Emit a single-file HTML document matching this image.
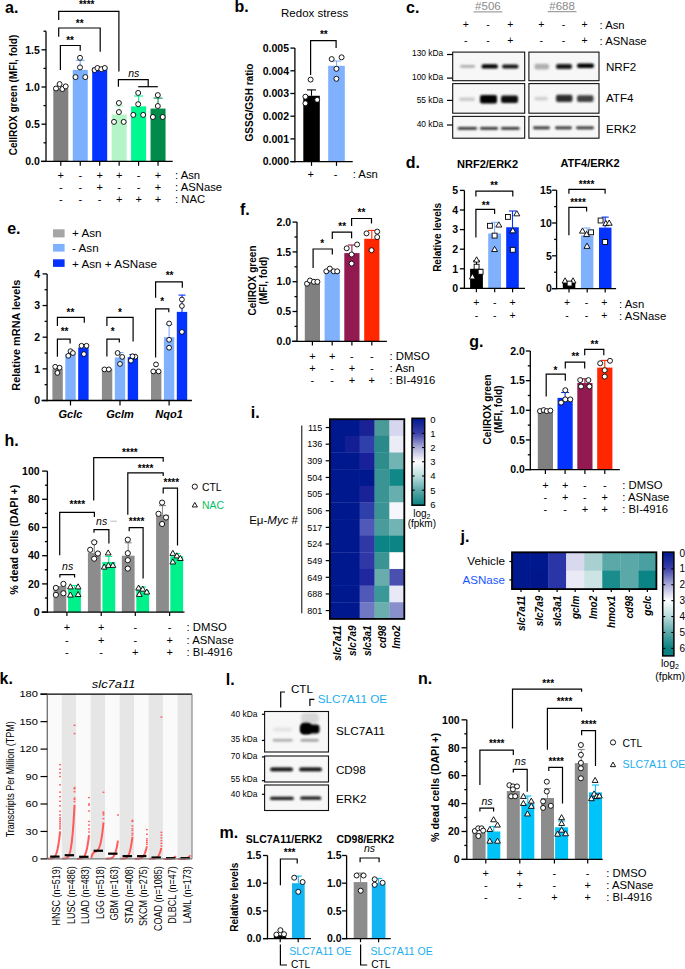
<!DOCTYPE html><html><head><meta charset="utf-8"><style>html,body{margin:0;padding:0;background:#fff;}svg{display:block;}text{font-family:"Liberation Sans", sans-serif;}</style></head><body>
<svg width="685" height="969" viewBox="0 0 685 969">
<rect width="685" height="969" fill="#fff"/>
<text x="5" y="13" font-size="16" font-weight="bold">a.</text>
<line x1="46" y1="162.05" x2="46" y2="31.2" stroke="#000" stroke-width="1.3"/>
<line x1="41.5" y1="161.4" x2="46" y2="161.4" stroke="#000" stroke-width="1.3"/>
<text x="39.8" y="165.18" font-size="10.5" font-weight="bold" text-anchor="end">0.0</text>
<line x1="41.5" y1="124.2" x2="46" y2="124.2" stroke="#000" stroke-width="1.3"/>
<text x="39.8" y="127.98" font-size="10.5" font-weight="bold" text-anchor="end">0.5</text>
<line x1="41.5" y1="87" x2="46" y2="87" stroke="#000" stroke-width="1.3"/>
<text x="39.8" y="90.78" font-size="10.5" font-weight="bold" text-anchor="end">1.0</text>
<line x1="41.5" y1="49.8" x2="46" y2="49.8" stroke="#000" stroke-width="1.3"/>
<text x="39.8" y="53.58" font-size="10.5" font-weight="bold" text-anchor="end">1.5</text>
<line x1="43.5" y1="142.8" x2="46" y2="142.8" stroke="#000" stroke-width="1.3"/>
<line x1="43.5" y1="105.6" x2="46" y2="105.6" stroke="#000" stroke-width="1.3"/>
<line x1="43.5" y1="68.4" x2="46" y2="68.4" stroke="#000" stroke-width="1.3"/>
<line x1="43.5" y1="31.2" x2="46" y2="31.2" stroke="#000" stroke-width="1.3"/>
<rect x="53.3" y="88.49" width="15" height="72.91" fill="#808080"/>
<rect x="72.75" y="69.89" width="15" height="91.51" fill="#7cb0ff"/>
<rect x="92.2" y="67.66" width="15" height="93.74" fill="#0433ff"/>
<rect x="111.65" y="114.53" width="15" height="46.87" fill="#b4f5c8"/>
<rect x="131.1" y="106.34" width="15" height="55.06" fill="#00f890"/>
<rect x="150.55" y="108.58" width="15" height="52.82" fill="#008b4b"/>
<line x1="80.25" y1="69.89" x2="80.25" y2="60.4" stroke="#7fb1ff" stroke-width="1.1"/>
<line x1="75.75" y1="60.4" x2="84.75" y2="60.4" stroke="#7fb1ff" stroke-width="1.1"/>
<line x1="119.15" y1="114.53" x2="119.15" y2="106" stroke="#b4f5cb" stroke-width="1.1"/>
<line x1="114.65" y1="106" x2="123.65" y2="106" stroke="#b4f5cb" stroke-width="1.1"/>
<line x1="138.6" y1="106.34" x2="138.6" y2="96" stroke="#00f58f" stroke-width="1.1"/>
<line x1="134.1" y1="96" x2="143.1" y2="96" stroke="#00f58f" stroke-width="1.1"/>
<line x1="158.05" y1="108.58" x2="158.05" y2="98.1" stroke="#008b4b" stroke-width="1.1"/>
<line x1="153.55" y1="98.1" x2="162.55" y2="98.1" stroke="#008b4b" stroke-width="1.1"/>
<line x1="41" y1="161.4" x2="172.7" y2="161.4" stroke="#000" stroke-width="1.3"/>
<line x1="60.8" y1="161.4" x2="60.8" y2="165.7" stroke="#000" stroke-width="1.2"/>
<line x1="80.25" y1="161.4" x2="80.25" y2="165.7" stroke="#000" stroke-width="1.2"/>
<line x1="99.7" y1="161.4" x2="99.7" y2="165.7" stroke="#000" stroke-width="1.2"/>
<line x1="119.15" y1="161.4" x2="119.15" y2="165.7" stroke="#000" stroke-width="1.2"/>
<line x1="138.6" y1="161.4" x2="138.6" y2="165.7" stroke="#000" stroke-width="1.2"/>
<line x1="158.05" y1="161.4" x2="158.05" y2="165.7" stroke="#000" stroke-width="1.2"/>
<circle cx="56" cy="88.5" r="2.5" fill="#fff" stroke="#000" stroke-width="0.9"/>
<circle cx="59.6" cy="84.1" r="2.5" fill="#fff" stroke="#000" stroke-width="0.9"/>
<circle cx="62.4" cy="89" r="2.5" fill="#fff" stroke="#000" stroke-width="0.9"/>
<circle cx="65.7" cy="86.4" r="2.5" fill="#fff" stroke="#000" stroke-width="0.9"/>
<circle cx="80" cy="57.8" r="2.5" fill="#fff" stroke="#000" stroke-width="0.9"/>
<circle cx="80" cy="67.4" r="2.5" fill="#fff" stroke="#000" stroke-width="0.9"/>
<circle cx="75.5" cy="77.1" r="2.5" fill="#fff" stroke="#000" stroke-width="0.9"/>
<circle cx="85.3" cy="77.1" r="2.5" fill="#fff" stroke="#000" stroke-width="0.9"/>
<circle cx="94.6" cy="70.1" r="2.5" fill="#fff" stroke="#000" stroke-width="0.9"/>
<circle cx="97.4" cy="68" r="2.5" fill="#fff" stroke="#000" stroke-width="0.9"/>
<circle cx="101.3" cy="69.2" r="2.5" fill="#fff" stroke="#000" stroke-width="0.9"/>
<circle cx="104.8" cy="68" r="2.5" fill="#fff" stroke="#000" stroke-width="0.9"/>
<circle cx="118.9" cy="103" r="2.5" fill="#fff" stroke="#000" stroke-width="0.9"/>
<circle cx="118.9" cy="112.1" r="2.5" fill="#fff" stroke="#000" stroke-width="0.9"/>
<circle cx="114" cy="121.9" r="2.5" fill="#fff" stroke="#000" stroke-width="0.9"/>
<circle cx="123.7" cy="121.9" r="2.5" fill="#fff" stroke="#000" stroke-width="0.9"/>
<circle cx="138.2" cy="92.9" r="2.5" fill="#fff" stroke="#000" stroke-width="0.9"/>
<circle cx="138.2" cy="104.2" r="2.5" fill="#fff" stroke="#000" stroke-width="0.9"/>
<circle cx="133.3" cy="114.9" r="2.5" fill="#fff" stroke="#000" stroke-width="0.9"/>
<circle cx="143.2" cy="114.9" r="2.5" fill="#fff" stroke="#000" stroke-width="0.9"/>
<circle cx="157.8" cy="95.1" r="2.5" fill="#fff" stroke="#000" stroke-width="0.9"/>
<circle cx="157.8" cy="106" r="2.5" fill="#fff" stroke="#000" stroke-width="0.9"/>
<circle cx="152.9" cy="117" r="2.5" fill="#fff" stroke="#000" stroke-width="0.9"/>
<circle cx="162.7" cy="117" r="2.5" fill="#fff" stroke="#000" stroke-width="0.9"/>
<polyline points="58.7,20.1 58.7,11.4 118.9,11.4 118.9,71.5" fill="none" stroke="#000" stroke-width="1.2"/>
<text x="86.7" y="8.2" font-size="10" font-weight="bold" text-anchor="middle">****</text>
<polyline points="58.7,36.8 58.7,28 100.2,28 100.2,51.7" fill="none" stroke="#000" stroke-width="1.2"/>
<text x="79.7" y="26.8" font-size="10" font-weight="bold" text-anchor="middle">**</text>
<polyline points="60.4,70 60.4,45.5 80.2,45.5 80.2,50.8" fill="none" stroke="#000" stroke-width="1.2"/>
<text x="70.1" y="44.3" font-size="10" font-weight="bold" text-anchor="middle">**</text>
<polyline points="118.4,86.7 118.4,79.7 148.2,79.7 148.2,86.7" fill="none" stroke="#000" stroke-width="1.2"/>
<line x1="138.2" y1="86.7" x2="157.8" y2="86.7" stroke="#000" stroke-width="1.2"/>
<text x="133.8" y="76.7" font-size="10.5" font-style="italic" text-anchor="middle">ns</text>
<text x="17.1" y="95" font-size="10" font-weight="bold" text-anchor="middle" transform="rotate(-90 17.1 95)">CellROX green (MFI, fold)</text>
<text x="60.8" y="178.6" font-size="11" text-anchor="middle">+</text>
<text x="80.25" y="178.6" font-size="11" text-anchor="middle">-</text>
<text x="99.7" y="178.6" font-size="11" text-anchor="middle">+</text>
<text x="119.15" y="178.6" font-size="11" text-anchor="middle">+</text>
<text x="138.6" y="178.6" font-size="11" text-anchor="middle">-</text>
<text x="158.05" y="178.6" font-size="11" text-anchor="middle">+</text>
<text x="175" y="178.6" font-size="11.3">: Asn</text>
<text x="60.8" y="190.7" font-size="11" text-anchor="middle">-</text>
<text x="80.25" y="190.7" font-size="11" text-anchor="middle">-</text>
<text x="99.7" y="190.7" font-size="11" text-anchor="middle">+</text>
<text x="119.15" y="190.7" font-size="11" text-anchor="middle">-</text>
<text x="138.6" y="190.7" font-size="11" text-anchor="middle">-</text>
<text x="158.05" y="190.7" font-size="11" text-anchor="middle">+</text>
<text x="175" y="190.7" font-size="11.3">: ASNase</text>
<text x="60.8" y="202.8" font-size="11" text-anchor="middle">-</text>
<text x="80.25" y="202.8" font-size="11" text-anchor="middle">-</text>
<text x="99.7" y="202.8" font-size="11" text-anchor="middle">-</text>
<text x="119.15" y="202.8" font-size="11" text-anchor="middle">+</text>
<text x="138.6" y="202.8" font-size="11" text-anchor="middle">+</text>
<text x="158.05" y="202.8" font-size="11" text-anchor="middle">+</text>
<text x="175" y="202.8" font-size="11.3">: NAC</text>
<text x="234.6" y="12.3" font-size="16" font-weight="bold">b.</text>
<text x="314.6" y="17.1" font-size="11.5" text-anchor="middle">Redox stress</text>
<line x1="294.9" y1="162.25" x2="294.9" y2="48.1" stroke="#000" stroke-width="1.3"/>
<line x1="290.4" y1="161.6" x2="294.9" y2="161.6" stroke="#000" stroke-width="1.3"/>
<text x="289" y="165.38" font-size="10.5" font-weight="bold" text-anchor="end">0.000</text>
<line x1="290.4" y1="138.9" x2="294.9" y2="138.9" stroke="#000" stroke-width="1.3"/>
<text x="289" y="142.68" font-size="10.5" font-weight="bold" text-anchor="end">0.001</text>
<line x1="290.4" y1="116.2" x2="294.9" y2="116.2" stroke="#000" stroke-width="1.3"/>
<text x="289" y="119.98" font-size="10.5" font-weight="bold" text-anchor="end">0.002</text>
<line x1="290.4" y1="93.5" x2="294.9" y2="93.5" stroke="#000" stroke-width="1.3"/>
<text x="289" y="97.28" font-size="10.5" font-weight="bold" text-anchor="end">0.003</text>
<line x1="290.4" y1="70.8" x2="294.9" y2="70.8" stroke="#000" stroke-width="1.3"/>
<text x="289" y="74.58" font-size="10.5" font-weight="bold" text-anchor="end">0.004</text>
<line x1="290.4" y1="48.1" x2="294.9" y2="48.1" stroke="#000" stroke-width="1.3"/>
<text x="289" y="51.88" font-size="10.5" font-weight="bold" text-anchor="end">0.005</text>
<rect x="303.3" y="95.77" width="16.5" height="65.83" fill="#000"/>
<rect x="328.2" y="65.81" width="16.6" height="95.79" fill="#7fb1ff"/>
<line x1="311.5" y1="95.77" x2="311.5" y2="89.9" stroke="#000" stroke-width="1.1"/>
<line x1="307" y1="89.9" x2="316" y2="89.9" stroke="#000" stroke-width="1.1"/>
<line x1="336.5" y1="65.81" x2="336.5" y2="61" stroke="#7fb1ff" stroke-width="1.1"/>
<line x1="332" y1="61" x2="341" y2="61" stroke="#7fb1ff" stroke-width="1.1"/>
<line x1="290.5" y1="161.6" x2="352.7" y2="161.6" stroke="#000" stroke-width="1.3"/>
<line x1="311.5" y1="161.6" x2="311.5" y2="165.9" stroke="#000" stroke-width="1.2"/>
<line x1="336.5" y1="161.6" x2="336.5" y2="165.9" stroke="#000" stroke-width="1.2"/>
<circle cx="310.6" cy="79.6" r="2.5" fill="#fff" stroke="#000" stroke-width="0.9"/>
<circle cx="305.4" cy="96.7" r="2.5" fill="#fff" stroke="#000" stroke-width="0.9"/>
<circle cx="317.2" cy="99.8" r="2.5" fill="#fff" stroke="#000" stroke-width="0.9"/>
<circle cx="305.4" cy="103.3" r="2.5" fill="#fff" stroke="#000" stroke-width="0.9"/>
<circle cx="331.7" cy="59.1" r="2.5" fill="#fff" stroke="#000" stroke-width="0.9"/>
<circle cx="341.6" cy="57.3" r="2.5" fill="#fff" stroke="#000" stroke-width="0.9"/>
<circle cx="336.4" cy="68.8" r="2.5" fill="#fff" stroke="#000" stroke-width="0.9"/>
<circle cx="336.4" cy="78.8" r="2.5" fill="#fff" stroke="#000" stroke-width="0.9"/>
<polyline points="310.6,74.9 310.6,40.7 336.1,40.7 336.1,48.1" fill="none" stroke="#000" stroke-width="1.2"/>
<text x="323.8" y="37.7" font-size="10" font-weight="bold" text-anchor="middle">**</text>
<text x="253" y="102.5" font-size="10" font-weight="bold" text-anchor="middle" transform="rotate(-90 253 102.5)">GSSG/GSH ratio</text>
<text x="310.6" y="178.4" font-size="11" text-anchor="middle">+</text>
<text x="335.6" y="178.4" font-size="11" text-anchor="middle">-</text>
<text x="352.7" y="178.4" font-size="11.3">: Asn</text>
<defs><filter id="bl1" x="-50%" y="-100%" width="200%" height="300%"><feGaussianBlur stdDeviation="1.1 0.9"/></filter><filter id="bl2" x="-50%" y="-100%" width="200%" height="300%"><feGaussianBlur stdDeviation="1.6 1.2"/></filter></defs>
<text x="406" y="12.7" font-size="16" font-weight="bold">c.</text>
<text x="487.9" y="9.8" font-size="11.5" text-anchor="middle" fill="#8a8a8a">#506</text>
<line x1="473.5" y1="11.9" x2="502.3" y2="11.9" stroke="#8a8a8a" stroke-width="1"/>
<text x="562.1" y="9.6" font-size="11.5" text-anchor="middle" fill="#8a8a8a">#688</text>
<line x1="547.7" y1="11.7" x2="576.5" y2="11.7" stroke="#8a8a8a" stroke-width="1"/>
<text x="465.8" y="28.3" font-size="10.5" text-anchor="middle">+</text>
<text x="487.9" y="28.3" font-size="10.5" text-anchor="middle">-</text>
<text x="510.4" y="28.3" font-size="10.5" text-anchor="middle">+</text>
<text x="465.8" y="44" font-size="10.5" text-anchor="middle">-</text>
<text x="487.9" y="44" font-size="10.5" text-anchor="middle">-</text>
<text x="510.4" y="44" font-size="10.5" text-anchor="middle">+</text>
<text x="541.2" y="28.3" font-size="10.5" text-anchor="middle">+</text>
<text x="563.4" y="28.3" font-size="10.5" text-anchor="middle">-</text>
<text x="584.5" y="28.3" font-size="10.5" text-anchor="middle">+</text>
<text x="541.2" y="44" font-size="10.5" text-anchor="middle">-</text>
<text x="563.4" y="44" font-size="10.5" text-anchor="middle">-</text>
<text x="584.5" y="44" font-size="10.5" text-anchor="middle">+</text>
<text x="599.5" y="28.5" font-size="11.3">: Asn</text>
<text x="599.5" y="44.6" font-size="11.3">: ASNase</text>
<rect x="452.7" y="52.1" width="72" height="28.6" fill="#f7f7f7" stroke="#111" stroke-width="1.1"/>
<rect x="452.7" y="83.6" width="72" height="29.6" fill="#f7f7f7" stroke="#111" stroke-width="1.1"/>
<rect x="452.7" y="116.4" width="72" height="21.8" fill="#f7f7f7" stroke="#111" stroke-width="1.1"/>
<rect x="528.9" y="52.1" width="70.1" height="28.6" fill="#f7f7f7" stroke="#111" stroke-width="1.1"/>
<rect x="528.9" y="83.6" width="70.1" height="29.6" fill="#f7f7f7" stroke="#111" stroke-width="1.1"/>
<rect x="528.9" y="116.4" width="70.1" height="21.8" fill="#f7f7f7" stroke="#111" stroke-width="1.1"/>
<rect x="460" y="64.9" width="15" height="2.8" rx="1.4" fill="#999" opacity="0.8" filter="url(#bl1)"/>
<rect x="481.5" y="64.2" width="16.5" height="4.4" rx="2.2" fill="#000" opacity="1" filter="url(#bl1)"/>
<rect x="502" y="64.5" width="16.5" height="4" rx="2" fill="#000" opacity="0.92" filter="url(#bl1)"/>
<rect x="459" y="97.5" width="16" height="3.6" rx="1.8" fill="#bbb" opacity="0.75" filter="url(#bl1)"/>
<rect x="480" y="95" width="17" height="8.6" rx="2" fill="#000" opacity="1" filter="url(#bl1)"/>
<rect x="501" y="95.5" width="17" height="7.6" rx="2" fill="#000" opacity="0.95" filter="url(#bl1)"/>
<rect x="457.6" y="127" width="19.4" height="2.8" rx="1.4" fill="#1a1a1a" opacity="0.9" filter="url(#bl1)"/>
<rect x="480" y="127" width="18" height="2.8" rx="1.4" fill="#1a1a1a" opacity="0.9" filter="url(#bl1)"/>
<rect x="501" y="127" width="18.6" height="2.8" rx="1.4" fill="#1a1a1a" opacity="0.9" filter="url(#bl1)"/>
<rect x="534.5" y="63.8" width="14.5" height="5.6" rx="2" fill="#999" opacity="0.75" filter="url(#bl1)"/>
<rect x="556" y="63.9" width="16" height="5" rx="2" fill="#111" opacity="0.95" filter="url(#bl1)"/>
<rect x="577" y="63.5" width="17" height="4.6" rx="2" fill="#000" opacity="1" filter="url(#bl1)"/>
<rect x="534.5" y="96.8" width="13.5" height="3.6" rx="1.8" fill="#c4c4c4" opacity="0.75" filter="url(#bl1)"/>
<rect x="556" y="94.8" width="16.5" height="7.2" rx="2" fill="#222" opacity="0.95" filter="url(#bl1)"/>
<rect x="577" y="95.2" width="16.5" height="6.8" rx="2" fill="#333" opacity="0.92" filter="url(#bl1)"/>
<rect x="533" y="126.4" width="17" height="2.8" rx="1.4" fill="#1a1a1a" opacity="0.9" filter="url(#bl1)"/>
<rect x="555" y="126.4" width="17" height="2.8" rx="1.4" fill="#1a1a1a" opacity="0.9" filter="url(#bl1)"/>
<rect x="576" y="126.4" width="18" height="2.8" rx="1.4" fill="#1a1a1a" opacity="0.9" filter="url(#bl1)"/>
<text x="443.2" y="56.4" font-size="8.4" text-anchor="end">130 kDa</text>
<line x1="447" y1="54.5" x2="452.7" y2="54.5" stroke="#000" stroke-width="1.2"/>
<text x="443.2" y="80" font-size="8.4" text-anchor="end">100 kDa</text>
<line x1="447" y1="78.1" x2="452.7" y2="78.1" stroke="#000" stroke-width="1.2"/>
<text x="443.2" y="103.2" font-size="8.4" text-anchor="end">55 kDa</text>
<line x1="447" y1="100.4" x2="452.7" y2="100.4" stroke="#000" stroke-width="1.2"/>
<text x="443.2" y="127.4" font-size="8.4" text-anchor="end">40 kDa</text>
<line x1="447" y1="125" x2="452.7" y2="125" stroke="#000" stroke-width="1.2"/>
<text x="606" y="71.1" font-size="11.6">NRF2</text>
<text x="606" y="102.4" font-size="11.6">ATF4</text>
<text x="606" y="133.3" font-size="11.6">ERK2</text>
<text x="405.8" y="167.8" font-size="16" font-weight="bold">d.</text>
<text x="487.6" y="167.8" font-size="11" font-weight="bold" text-anchor="middle">NRF2/ERK2</text>
<text x="590" y="167.3" font-size="11" font-weight="bold" text-anchor="middle">ATF4/ERK2</text>
<text x="441" y="237.4" font-size="10" font-weight="bold" text-anchor="middle" transform="rotate(-90 441 237.4)">Relative levels</text>
<line x1="464.4" y1="289.05" x2="464.4" y2="190.4" stroke="#000" stroke-width="1.3"/>
<line x1="459.9" y1="288.4" x2="464.4" y2="288.4" stroke="#000" stroke-width="1.3"/>
<text x="458.2" y="292.18" font-size="10.5" font-weight="bold" text-anchor="end">0</text>
<line x1="459.9" y1="268.8" x2="464.4" y2="268.8" stroke="#000" stroke-width="1.3"/>
<text x="458.2" y="272.58" font-size="10.5" font-weight="bold" text-anchor="end">1</text>
<line x1="459.9" y1="249.2" x2="464.4" y2="249.2" stroke="#000" stroke-width="1.3"/>
<text x="458.2" y="252.98" font-size="10.5" font-weight="bold" text-anchor="end">2</text>
<line x1="459.9" y1="229.6" x2="464.4" y2="229.6" stroke="#000" stroke-width="1.3"/>
<text x="458.2" y="233.38" font-size="10.5" font-weight="bold" text-anchor="end">3</text>
<line x1="459.9" y1="210" x2="464.4" y2="210" stroke="#000" stroke-width="1.3"/>
<text x="458.2" y="213.78" font-size="10.5" font-weight="bold" text-anchor="end">4</text>
<line x1="459.9" y1="190.4" x2="464.4" y2="190.4" stroke="#000" stroke-width="1.3"/>
<text x="458.2" y="194.18" font-size="10.5" font-weight="bold" text-anchor="end">5</text>
<rect x="470.1" y="268.8" width="12.8" height="19.6" fill="#000"/>
<rect x="488.2" y="233.52" width="12.8" height="54.88" fill="#7fb1ff"/>
<rect x="506.2" y="227.25" width="12.6" height="61.15" fill="#0433ff"/>
<line x1="476.5" y1="268.8" x2="476.5" y2="261" stroke="#000" stroke-width="1.1"/>
<line x1="473" y1="261" x2="480" y2="261" stroke="#000" stroke-width="1.1"/>
<line x1="494.6" y1="233.52" x2="494.6" y2="222.3" stroke="#7fb1ff" stroke-width="1.1"/>
<line x1="491.1" y1="222.3" x2="498.1" y2="222.3" stroke="#7fb1ff" stroke-width="1.1"/>
<line x1="512.5" y1="227.25" x2="512.5" y2="211" stroke="#0433ff" stroke-width="1.1"/>
<line x1="509" y1="211" x2="516" y2="211" stroke="#0433ff" stroke-width="1.1"/>
<line x1="460" y1="288.4" x2="525" y2="288.4" stroke="#000" stroke-width="1.3"/>
<line x1="476.4" y1="288.4" x2="476.4" y2="292.3" stroke="#000" stroke-width="1.2"/>
<line x1="494.7" y1="288.4" x2="494.7" y2="292.3" stroke="#000" stroke-width="1.2"/>
<line x1="512.6" y1="288.4" x2="512.6" y2="292.3" stroke="#000" stroke-width="1.2"/>
<polygon points="476.6,256.8 473.6,262.05 479.6,262.05" fill="#fff" stroke="#000" stroke-width="0.9"/>
<rect x="474.15" y="264.25" width="4.9" height="4.9" fill="#fff" stroke="#000" stroke-width="0.9"/>
<rect x="478.15" y="269.35" width="4.9" height="4.9" fill="#fff" stroke="#000" stroke-width="0.9"/>
<polygon points="472.4,273.7 469.4,278.95 475.4,278.95" fill="#fff" stroke="#000" stroke-width="0.9"/>
<rect x="487.45" y="223.35" width="4.9" height="4.9" fill="#fff" stroke="#000" stroke-width="0.9"/>
<polygon points="498.8,221.8 495.8,227.05 501.8,227.05" fill="#fff" stroke="#000" stroke-width="0.9"/>
<rect x="492.15" y="233.15" width="4.9" height="4.9" fill="#fff" stroke="#000" stroke-width="0.9"/>
<polygon points="494.6,246.3 491.6,251.55 497.6,251.55" fill="#fff" stroke="#000" stroke-width="0.9"/>
<rect x="505.45" y="214.45" width="4.9" height="4.9" fill="#fff" stroke="#000" stroke-width="0.9"/>
<polygon points="516.8,210.6 513.8,215.85 519.8,215.85" fill="#fff" stroke="#000" stroke-width="0.9"/>
<polygon points="512.8,227.6 509.8,232.85 515.8,232.85" fill="#fff" stroke="#000" stroke-width="0.9"/>
<rect x="510.35" y="247.35" width="4.9" height="4.9" fill="#fff" stroke="#000" stroke-width="0.9"/>
<polyline points="475.9,237.4 475.9,209.4 494.6,209.4 494.6,214" fill="none" stroke="#000" stroke-width="1.2"/>
<text x="485.7" y="209.2" font-size="10" font-weight="bold" text-anchor="middle">**</text>
<polyline points="475.9,196.6 475.9,191.2 512.8,191.2 512.8,196.6" fill="none" stroke="#000" stroke-width="1.2"/>
<text x="494.1" y="189.1" font-size="10" font-weight="bold" text-anchor="middle">**</text>
<line x1="556.6" y1="289.25" x2="556.6" y2="190.2" stroke="#000" stroke-width="1.3"/>
<line x1="552.1" y1="288.6" x2="556.6" y2="288.6" stroke="#000" stroke-width="1.3"/>
<text x="551.8" y="292.38" font-size="10.5" font-weight="bold" text-anchor="end">0</text>
<line x1="552.1" y1="255.8" x2="556.6" y2="255.8" stroke="#000" stroke-width="1.3"/>
<text x="551.8" y="259.58" font-size="10.5" font-weight="bold" text-anchor="end">5</text>
<line x1="552.1" y1="223" x2="556.6" y2="223" stroke="#000" stroke-width="1.3"/>
<text x="551.8" y="226.78" font-size="10.5" font-weight="bold" text-anchor="end">10</text>
<line x1="552.1" y1="190.2" x2="556.6" y2="190.2" stroke="#000" stroke-width="1.3"/>
<text x="551.8" y="193.98" font-size="10.5" font-weight="bold" text-anchor="end">15</text>
<line x1="554.1" y1="272.2" x2="556.6" y2="272.2" stroke="#000" stroke-width="1.3"/>
<line x1="554.1" y1="239.4" x2="556.6" y2="239.4" stroke="#000" stroke-width="1.3"/>
<line x1="554.1" y1="206.6" x2="556.6" y2="206.6" stroke="#000" stroke-width="1.3"/>
<rect x="562.8" y="282.7" width="12.5" height="5.9" fill="#000"/>
<rect x="580.9" y="235.46" width="12.5" height="53.14" fill="#7fb1ff"/>
<rect x="599" y="227.59" width="12.5" height="61.01" fill="#0433ff"/>
<line x1="587.1" y1="235.46" x2="587.1" y2="228" stroke="#7fb1ff" stroke-width="1.1"/>
<line x1="583.6" y1="228" x2="590.6" y2="228" stroke="#7fb1ff" stroke-width="1.1"/>
<line x1="605.2" y1="227.59" x2="605.2" y2="217.1" stroke="#0433ff" stroke-width="1.1"/>
<line x1="601.7" y1="217.1" x2="608.7" y2="217.1" stroke="#0433ff" stroke-width="1.1"/>
<line x1="552" y1="288.6" x2="616.1" y2="288.6" stroke="#000" stroke-width="1.3"/>
<line x1="569" y1="288.6" x2="569" y2="292.5" stroke="#000" stroke-width="1.2"/>
<line x1="587.2" y1="288.6" x2="587.2" y2="292.5" stroke="#000" stroke-width="1.2"/>
<line x1="605.2" y1="288.6" x2="605.2" y2="292.5" stroke="#000" stroke-width="1.2"/>
<polygon points="565.1,277.8 562.1,283.05 568.1,283.05" fill="#fff" stroke="#000" stroke-width="0.9"/>
<polygon points="573,277.8 570,283.05 576,283.05" fill="#fff" stroke="#000" stroke-width="0.9"/>
<rect x="567.15" y="281.15" width="4.9" height="4.9" fill="#fff" stroke="#000" stroke-width="0.9"/>
<polygon points="582.5,227.9 579.5,233.15 585.5,233.15" fill="#fff" stroke="#000" stroke-width="0.9"/>
<polygon points="586.6,231.3 583.6,236.55 589.6,236.55" fill="#fff" stroke="#000" stroke-width="0.9"/>
<rect x="588.65" y="229.85" width="4.9" height="4.9" fill="#fff" stroke="#000" stroke-width="0.9"/>
<polygon points="587,243.1 584,248.35 590,248.35" fill="#fff" stroke="#000" stroke-width="0.9"/>
<rect x="598.15" y="218.05" width="4.9" height="4.9" fill="#fff" stroke="#000" stroke-width="0.9"/>
<polygon points="605.8,220.4 602.8,225.65 608.8,225.65" fill="#fff" stroke="#000" stroke-width="0.9"/>
<polygon points="609.2,220 606.2,225.25 612.2,225.25" fill="#fff" stroke="#000" stroke-width="0.9"/>
<rect x="602.65" y="239.55" width="4.9" height="4.9" fill="#fff" stroke="#000" stroke-width="0.9"/>
<polyline points="568.9,235.2 568.9,207.4 586.6,207.4 586.6,211.5" fill="none" stroke="#000" stroke-width="1.2"/>
<text x="578" y="205.5" font-size="10" font-weight="bold" text-anchor="middle">****</text>
<polyline points="568.9,193.8 568.9,189.3 605.1,189.3 605.1,193.8" fill="none" stroke="#000" stroke-width="1.2"/>
<text x="586.6" y="187.6" font-size="10" font-weight="bold" text-anchor="middle">****</text>
<text x="476.4" y="306" font-size="10.5" text-anchor="middle">+</text>
<text x="494.7" y="306" font-size="10.5" text-anchor="middle">-</text>
<text x="512.6" y="306" font-size="10.5" text-anchor="middle">+</text>
<text x="476.4" y="318.5" font-size="10.5" text-anchor="middle">-</text>
<text x="494.7" y="318.5" font-size="10.5" text-anchor="middle">-</text>
<text x="512.6" y="318.5" font-size="10.5" text-anchor="middle">+</text>
<text x="567" y="306" font-size="10.5" text-anchor="middle">+</text>
<text x="586.4" y="306" font-size="10.5" text-anchor="middle">-</text>
<text x="604.2" y="306" font-size="10.5" text-anchor="middle">+</text>
<text x="567" y="318.5" font-size="10.5" text-anchor="middle">-</text>
<text x="586.4" y="318.5" font-size="10.5" text-anchor="middle">-</text>
<text x="604.2" y="318.5" font-size="10.5" text-anchor="middle">+</text>
<text x="619.1" y="307.7" font-size="11.3">: Asn</text>
<text x="619.1" y="319.6" font-size="11.3">: ASNase</text>
<text x="7.2" y="233.6" font-size="16" font-weight="bold">e.</text>
<rect x="53" y="229.3" width="11.6" height="8.1" fill="#a6a6a6"/>
<text x="72" y="236.9" font-size="11.7">+ Asn</text>
<rect x="53" y="243.9" width="11.6" height="7.7" fill="#7fb1ff"/>
<text x="72" y="252.2" font-size="11.7">- Asn</text>
<rect x="53" y="259.3" width="11.6" height="7.6" fill="#0433ff"/>
<text x="72" y="267.5" font-size="11.7">+ Asn + ASNase</text>
<line x1="47.1" y1="401.15" x2="47.1" y2="273.9" stroke="#000" stroke-width="1.3"/>
<line x1="42.6" y1="400.5" x2="47.1" y2="400.5" stroke="#000" stroke-width="1.3"/>
<text x="40" y="404.28" font-size="10.5" font-weight="bold" text-anchor="end">0</text>
<line x1="42.6" y1="368.85" x2="47.1" y2="368.85" stroke="#000" stroke-width="1.3"/>
<text x="40" y="372.63" font-size="10.5" font-weight="bold" text-anchor="end">1</text>
<line x1="42.6" y1="337.2" x2="47.1" y2="337.2" stroke="#000" stroke-width="1.3"/>
<text x="40" y="340.98" font-size="10.5" font-weight="bold" text-anchor="end">2</text>
<line x1="42.6" y1="305.55" x2="47.1" y2="305.55" stroke="#000" stroke-width="1.3"/>
<text x="40" y="309.33" font-size="10.5" font-weight="bold" text-anchor="end">3</text>
<line x1="42.6" y1="273.9" x2="47.1" y2="273.9" stroke="#000" stroke-width="1.3"/>
<text x="40" y="277.68" font-size="10.5" font-weight="bold" text-anchor="end">4</text>
<line x1="44.6" y1="384.68" x2="47.1" y2="384.68" stroke="#000" stroke-width="1.3"/>
<line x1="44.6" y1="353.02" x2="47.1" y2="353.02" stroke="#000" stroke-width="1.3"/>
<line x1="44.6" y1="321.38" x2="47.1" y2="321.38" stroke="#000" stroke-width="1.3"/>
<line x1="44.6" y1="289.73" x2="47.1" y2="289.73" stroke="#000" stroke-width="1.3"/>
<rect x="52.4" y="368.85" width="10.4" height="31.65" fill="#8c8c8c"/>
<rect x="65.3" y="353.97" width="10.4" height="46.53" fill="#7fb1ff"/>
<rect x="78.2" y="347.64" width="10.4" height="52.86" fill="#0433ff"/>
<rect x="101.9" y="368.85" width="10.4" height="31.65" fill="#8c8c8c"/>
<rect x="114.8" y="357.46" width="10.4" height="43.04" fill="#7fb1ff"/>
<rect x="127.7" y="357.14" width="10.4" height="43.36" fill="#0433ff"/>
<rect x="151" y="372.01" width="10.4" height="28.49" fill="#8c8c8c"/>
<rect x="163.9" y="337.2" width="10.4" height="63.3" fill="#7fb1ff"/>
<rect x="176.8" y="311.88" width="10.4" height="88.62" fill="#0433ff"/>
<line x1="169.1" y1="337.2" x2="169.1" y2="324.5" stroke="#7fb1ff" stroke-width="1.1"/>
<line x1="165.6" y1="324.5" x2="172.6" y2="324.5" stroke="#7fb1ff" stroke-width="1.1"/>
<line x1="182" y1="311.88" x2="182" y2="295.1" stroke="#0433ff" stroke-width="1.1"/>
<line x1="178.5" y1="295.1" x2="185.5" y2="295.1" stroke="#0433ff" stroke-width="1.1"/>
<line x1="120" y1="357.46" x2="120" y2="352.5" stroke="#7fb1ff" stroke-width="1.1"/>
<line x1="116.5" y1="352.5" x2="123.5" y2="352.5" stroke="#7fb1ff" stroke-width="1.1"/>
<line x1="132.9" y1="357.14" x2="132.9" y2="354.5" stroke="#0433ff" stroke-width="1.1"/>
<line x1="129.4" y1="354.5" x2="136.4" y2="354.5" stroke="#0433ff" stroke-width="1.1"/>
<line x1="83.4" y1="347.33" x2="83.4" y2="344.5" stroke="#0433ff" stroke-width="1.1"/>
<line x1="79.9" y1="344.5" x2="86.9" y2="344.5" stroke="#0433ff" stroke-width="1.1"/>
<line x1="41.6" y1="400.5" x2="191.9" y2="400.5" stroke="#000" stroke-width="1.3"/>
<line x1="70.5" y1="400.5" x2="70.5" y2="405.5" stroke="#000" stroke-width="1.2"/>
<line x1="120" y1="400.5" x2="120" y2="405.5" stroke="#000" stroke-width="1.2"/>
<line x1="169.1" y1="400.5" x2="169.1" y2="405.5" stroke="#000" stroke-width="1.2"/>
<circle cx="55.2" cy="366.8" r="2.4" fill="#fff" stroke="#000" stroke-width="0.9"/>
<circle cx="59.6" cy="367.7" r="2.4" fill="#fff" stroke="#000" stroke-width="0.9"/>
<circle cx="57.4" cy="372.9" r="2.4" fill="#fff" stroke="#000" stroke-width="0.9"/>
<circle cx="68.3" cy="355.8" r="2.4" fill="#fff" stroke="#000" stroke-width="0.9"/>
<circle cx="70.5" cy="351.2" r="2.4" fill="#fff" stroke="#000" stroke-width="0.9"/>
<circle cx="72.9" cy="353" r="2.4" fill="#fff" stroke="#000" stroke-width="0.9"/>
<circle cx="81.5" cy="345.8" r="2.4" fill="#fff" stroke="#000" stroke-width="0.9"/>
<circle cx="86.5" cy="345.8" r="2.4" fill="#fff" stroke="#000" stroke-width="0.9"/>
<circle cx="83.9" cy="354.1" r="2.4" fill="#fff" stroke="#000" stroke-width="0.9"/>
<circle cx="104.4" cy="369.4" r="2.4" fill="#fff" stroke="#000" stroke-width="0.9"/>
<circle cx="108.8" cy="369.4" r="2.4" fill="#fff" stroke="#000" stroke-width="0.9"/>
<circle cx="117.6" cy="353" r="2.4" fill="#fff" stroke="#000" stroke-width="0.9"/>
<circle cx="122.2" cy="356.9" r="2.4" fill="#fff" stroke="#000" stroke-width="0.9"/>
<circle cx="120" cy="363.9" r="2.4" fill="#fff" stroke="#000" stroke-width="0.9"/>
<circle cx="130.9" cy="360.7" r="2.4" fill="#fff" stroke="#000" stroke-width="0.9"/>
<circle cx="135.3" cy="356.7" r="2.4" fill="#fff" stroke="#000" stroke-width="0.9"/>
<circle cx="132.5" cy="356.3" r="2.4" fill="#fff" stroke="#000" stroke-width="0.9"/>
<circle cx="156" cy="364.4" r="2.4" fill="#fff" stroke="#000" stroke-width="0.9"/>
<circle cx="153.3" cy="371.4" r="2.4" fill="#fff" stroke="#000" stroke-width="0.9"/>
<circle cx="158.6" cy="371.4" r="2.4" fill="#fff" stroke="#000" stroke-width="0.9"/>
<circle cx="169.1" cy="323.5" r="2.4" fill="#fff" stroke="#000" stroke-width="0.9"/>
<circle cx="169.1" cy="339.8" r="2.4" fill="#fff" stroke="#000" stroke-width="0.9"/>
<circle cx="169.1" cy="347.7" r="2.4" fill="#fff" stroke="#000" stroke-width="0.9"/>
<circle cx="181.9" cy="299.5" r="2.4" fill="#fff" stroke="#000" stroke-width="0.9"/>
<circle cx="181.9" cy="306" r="2.4" fill="#fff" stroke="#000" stroke-width="0.9"/>
<circle cx="181.9" cy="331.9" r="2.4" fill="#fff" stroke="#000" stroke-width="0.9"/>
<text x="70.5" y="417.6" font-size="11" font-weight="bold" font-style="italic" text-anchor="middle">Gclc</text>
<text x="120" y="417.6" font-size="11" font-weight="bold" font-style="italic" text-anchor="middle">Gclm</text>
<text x="169.1" y="417.9" font-size="11" font-weight="bold" font-style="italic" text-anchor="middle">Nqo1</text>
<polyline points="57.4,326 57.4,317.3 84.3,317.3 84.3,322.8" fill="none" stroke="#000" stroke-width="1.2"/>
<text x="70.5" y="315.6" font-size="10" font-weight="bold" text-anchor="middle">**</text>
<polyline points="57.4,356.7 57.4,339.2 70.1,339.2 70.1,343.6" fill="none" stroke="#000" stroke-width="1.2"/>
<text x="64.6" y="335.3" font-size="10" font-weight="bold" text-anchor="middle">**</text>
<polyline points="106.9,326 106.9,317.3 133.1,317.3 133.1,341.4" fill="none" stroke="#000" stroke-width="1.2"/>
<text x="120" y="315.6" font-size="10" font-weight="bold" text-anchor="middle">*</text>
<polyline points="106.9,356.5 106.9,339.2 119.3,339.2 119.3,342.5" fill="none" stroke="#000" stroke-width="1.2"/>
<text x="112.8" y="335.3" font-size="10" font-weight="bold" text-anchor="middle">*</text>
<polyline points="155.6,297.7 155.6,281.9 182.3,281.9 182.3,287.7" fill="none" stroke="#000" stroke-width="1.2"/>
<text x="169.6" y="278.9" font-size="10" font-weight="bold" text-anchor="middle">**</text>
<polyline points="155.6,357.4 155.6,308.8 168.8,308.8 168.8,312.3" fill="none" stroke="#000" stroke-width="1.2"/>
<text x="162.1" y="304.9" font-size="10" font-weight="bold" text-anchor="middle">*</text>
<text x="19.92" y="335.2" font-size="10.9" font-weight="bold" text-anchor="middle" transform="rotate(-90 19.92 335.2)">Relative mRNA levels</text>
<text x="239.9" y="214.7" font-size="16" font-weight="bold">f.</text>
<line x1="297" y1="341.95" x2="297" y2="222.1" stroke="#000" stroke-width="1.3"/>
<line x1="292.5" y1="341.3" x2="297" y2="341.3" stroke="#000" stroke-width="1.3"/>
<text x="291.2" y="345.08" font-size="10.5" font-weight="bold" text-anchor="end">0.0</text>
<line x1="292.5" y1="311.5" x2="297" y2="311.5" stroke="#000" stroke-width="1.3"/>
<text x="291.2" y="315.28" font-size="10.5" font-weight="bold" text-anchor="end">0.5</text>
<line x1="292.5" y1="281.7" x2="297" y2="281.7" stroke="#000" stroke-width="1.3"/>
<text x="291.2" y="285.48" font-size="10.5" font-weight="bold" text-anchor="end">1.0</text>
<line x1="292.5" y1="251.9" x2="297" y2="251.9" stroke="#000" stroke-width="1.3"/>
<text x="291.2" y="255.68" font-size="10.5" font-weight="bold" text-anchor="end">1.5</text>
<line x1="292.5" y1="222.1" x2="297" y2="222.1" stroke="#000" stroke-width="1.3"/>
<text x="291.2" y="225.88" font-size="10.5" font-weight="bold" text-anchor="end">2.0</text>
<line x1="294.5" y1="326.4" x2="297" y2="326.4" stroke="#000" stroke-width="1.3"/>
<line x1="294.5" y1="296.6" x2="297" y2="296.6" stroke="#000" stroke-width="1.3"/>
<line x1="294.5" y1="266.8" x2="297" y2="266.8" stroke="#000" stroke-width="1.3"/>
<line x1="294.5" y1="237" x2="297" y2="237" stroke="#000" stroke-width="1.3"/>
<rect x="304.8" y="282.89" width="15.2" height="58.41" fill="#808080"/>
<rect x="324.6" y="270.97" width="15.2" height="70.33" fill="#7fb1ff"/>
<rect x="344.3" y="253.09" width="15.2" height="88.21" fill="#921a50"/>
<rect x="364.2" y="238.79" width="15.2" height="102.51" fill="#ff2600"/>
<line x1="351.9" y1="253.09" x2="351.9" y2="245" stroke="#921a50" stroke-width="1.1"/>
<line x1="347.9" y1="245" x2="355.9" y2="245" stroke="#921a50" stroke-width="1.1"/>
<line x1="371.8" y1="238.79" x2="371.8" y2="230.4" stroke="#ff2600" stroke-width="1.1"/>
<line x1="367.8" y1="230.4" x2="375.8" y2="230.4" stroke="#ff2600" stroke-width="1.1"/>
<line x1="292" y1="341.3" x2="386.9" y2="341.3" stroke="#000" stroke-width="1.3"/>
<line x1="312.4" y1="341.3" x2="312.4" y2="345.6" stroke="#000" stroke-width="1.2"/>
<line x1="332.2" y1="341.3" x2="332.2" y2="345.6" stroke="#000" stroke-width="1.2"/>
<line x1="351.9" y1="341.3" x2="351.9" y2="345.6" stroke="#000" stroke-width="1.2"/>
<line x1="371.8" y1="341.3" x2="371.8" y2="345.6" stroke="#000" stroke-width="1.2"/>
<circle cx="307" cy="283.7" r="2.5" fill="#fff" stroke="#000" stroke-width="0.9"/>
<circle cx="310" cy="280.5" r="2.5" fill="#fff" stroke="#000" stroke-width="0.9"/>
<circle cx="313.9" cy="281.8" r="2.5" fill="#fff" stroke="#000" stroke-width="0.9"/>
<circle cx="317.4" cy="281.8" r="2.5" fill="#fff" stroke="#000" stroke-width="0.9"/>
<circle cx="326.3" cy="271.3" r="2.5" fill="#fff" stroke="#000" stroke-width="0.9"/>
<circle cx="329.8" cy="268.6" r="2.5" fill="#fff" stroke="#000" stroke-width="0.9"/>
<circle cx="333.7" cy="271.3" r="2.5" fill="#fff" stroke="#000" stroke-width="0.9"/>
<circle cx="337.2" cy="271.3" r="2.5" fill="#fff" stroke="#000" stroke-width="0.9"/>
<circle cx="346.7" cy="248.3" r="2.5" fill="#fff" stroke="#000" stroke-width="0.9"/>
<circle cx="357.1" cy="244.5" r="2.5" fill="#fff" stroke="#000" stroke-width="0.9"/>
<circle cx="351.6" cy="254.5" r="2.5" fill="#fff" stroke="#000" stroke-width="0.9"/>
<circle cx="351.6" cy="263.6" r="2.5" fill="#fff" stroke="#000" stroke-width="0.9"/>
<circle cx="366.5" cy="233.4" r="2.5" fill="#fff" stroke="#000" stroke-width="0.9"/>
<circle cx="377.2" cy="231.6" r="2.5" fill="#fff" stroke="#000" stroke-width="0.9"/>
<circle cx="377.2" cy="237.1" r="2.5" fill="#fff" stroke="#000" stroke-width="0.9"/>
<circle cx="371.5" cy="250.2" r="2.5" fill="#fff" stroke="#000" stroke-width="0.9"/>
<polyline points="313.1,268.1 313.1,249 332.3,249 332.3,254.5" fill="none" stroke="#000" stroke-width="1.2"/>
<text x="322.3" y="246.5" font-size="10" font-weight="bold" text-anchor="middle">*</text>
<polyline points="332.3,239.1 332.3,232.1 351.6,232.1 351.6,238.3" fill="none" stroke="#000" stroke-width="1.2"/>
<text x="342.2" y="230.1" font-size="10" font-weight="bold" text-anchor="middle">**</text>
<polyline points="351.6,225.9 351.6,218.5 371.5,218.5 371.5,223.4" fill="none" stroke="#000" stroke-width="1.2"/>
<text x="361.5" y="215.9" font-size="10" font-weight="bold" text-anchor="middle">**</text>
<text x="255.9" y="280.5" font-size="10" font-weight="bold" text-anchor="middle" transform="rotate(-90 255.9 280.5)">CellROX green</text>
<text x="267.1" y="280.5" font-size="10" font-weight="bold" text-anchor="middle" transform="rotate(-90 267.1 280.5)">(MFI, fold)</text>
<text x="312.4" y="359.6" font-size="11" text-anchor="middle">+</text>
<text x="332.2" y="359.6" font-size="11" text-anchor="middle">+</text>
<text x="351.9" y="359.6" font-size="11" text-anchor="middle">-</text>
<text x="371.8" y="359.6" font-size="11" text-anchor="middle">-</text>
<text x="389.5" y="359.6" font-size="11.3">: DMSO</text>
<text x="312.4" y="371.8" font-size="11" text-anchor="middle">+</text>
<text x="332.2" y="371.8" font-size="11" text-anchor="middle">-</text>
<text x="351.9" y="371.8" font-size="11" text-anchor="middle">+</text>
<text x="371.8" y="371.8" font-size="11" text-anchor="middle">-</text>
<text x="389.5" y="371.8" font-size="11.3">: Asn</text>
<text x="312.4" y="384" font-size="11" text-anchor="middle">-</text>
<text x="332.2" y="384" font-size="11" text-anchor="middle">-</text>
<text x="351.9" y="384" font-size="11" text-anchor="middle">+</text>
<text x="371.8" y="384" font-size="11" text-anchor="middle">+</text>
<text x="389.5" y="384" font-size="11.3">: BI-4916</text>
<text x="469.3" y="347.3" font-size="16" font-weight="bold">g.</text>
<line x1="530.3" y1="470.25" x2="530.3" y2="351" stroke="#000" stroke-width="1.3"/>
<line x1="525.8" y1="469.6" x2="530.3" y2="469.6" stroke="#000" stroke-width="1.3"/>
<text x="524.8" y="473.38" font-size="10.5" font-weight="bold" text-anchor="end">0.0</text>
<line x1="525.8" y1="439.95" x2="530.3" y2="439.95" stroke="#000" stroke-width="1.3"/>
<text x="524.8" y="443.73" font-size="10.5" font-weight="bold" text-anchor="end">0.5</text>
<line x1="525.8" y1="410.3" x2="530.3" y2="410.3" stroke="#000" stroke-width="1.3"/>
<text x="524.8" y="414.08" font-size="10.5" font-weight="bold" text-anchor="end">1.0</text>
<line x1="525.8" y1="380.65" x2="530.3" y2="380.65" stroke="#000" stroke-width="1.3"/>
<text x="524.8" y="384.43" font-size="10.5" font-weight="bold" text-anchor="end">1.5</text>
<line x1="525.8" y1="351" x2="530.3" y2="351" stroke="#000" stroke-width="1.3"/>
<text x="524.8" y="354.78" font-size="10.5" font-weight="bold" text-anchor="end">2.0</text>
<line x1="527.8" y1="454.78" x2="530.3" y2="454.78" stroke="#000" stroke-width="1.3"/>
<line x1="527.8" y1="425.12" x2="530.3" y2="425.12" stroke="#000" stroke-width="1.3"/>
<line x1="527.8" y1="395.48" x2="530.3" y2="395.48" stroke="#000" stroke-width="1.3"/>
<line x1="527.8" y1="365.83" x2="530.3" y2="365.83" stroke="#000" stroke-width="1.3"/>
<rect x="537.8" y="410.3" width="15.2" height="59.3" fill="#808080"/>
<rect x="557.5" y="397.85" width="15.2" height="71.75" fill="#0433ff"/>
<rect x="577.3" y="383.02" width="15.2" height="86.58" fill="#921a50"/>
<rect x="597.2" y="367.6" width="15.2" height="102" fill="#ff2600"/>
<line x1="565.1" y1="397.85" x2="565.1" y2="392.5" stroke="#0433ff" stroke-width="1.1"/>
<line x1="561.1" y1="392.5" x2="569.1" y2="392.5" stroke="#0433ff" stroke-width="1.1"/>
<line x1="584.9" y1="383.02" x2="584.9" y2="378.8" stroke="#921a50" stroke-width="1.1"/>
<line x1="580.9" y1="378.8" x2="588.9" y2="378.8" stroke="#921a50" stroke-width="1.1"/>
<line x1="604.8" y1="367.6" x2="604.8" y2="360.4" stroke="#ff2600" stroke-width="1.1"/>
<line x1="600.8" y1="360.4" x2="608.8" y2="360.4" stroke="#ff2600" stroke-width="1.1"/>
<line x1="525" y1="469.6" x2="619.8" y2="469.6" stroke="#000" stroke-width="1.3"/>
<line x1="545.4" y1="469.6" x2="545.4" y2="473.9" stroke="#000" stroke-width="1.2"/>
<line x1="565.1" y1="469.6" x2="565.1" y2="473.9" stroke="#000" stroke-width="1.2"/>
<line x1="584.9" y1="469.6" x2="584.9" y2="473.9" stroke="#000" stroke-width="1.2"/>
<line x1="604.8" y1="469.6" x2="604.8" y2="473.9" stroke="#000" stroke-width="1.2"/>
<circle cx="540" cy="411.1" r="2.5" fill="#fff" stroke="#000" stroke-width="0.9"/>
<circle cx="543.7" cy="410.1" r="2.5" fill="#fff" stroke="#000" stroke-width="0.9"/>
<circle cx="546.7" cy="411.1" r="2.5" fill="#fff" stroke="#000" stroke-width="0.9"/>
<circle cx="550.4" cy="410.6" r="2.5" fill="#fff" stroke="#000" stroke-width="0.9"/>
<circle cx="565.3" cy="390.2" r="2.5" fill="#fff" stroke="#000" stroke-width="0.9"/>
<circle cx="561.1" cy="402.6" r="2.5" fill="#fff" stroke="#000" stroke-width="0.9"/>
<circle cx="565.3" cy="399.4" r="2.5" fill="#fff" stroke="#000" stroke-width="0.9"/>
<circle cx="570.3" cy="399.4" r="2.5" fill="#fff" stroke="#000" stroke-width="0.9"/>
<circle cx="580.2" cy="380.1" r="2.5" fill="#fff" stroke="#000" stroke-width="0.9"/>
<circle cx="588.4" cy="380.1" r="2.5" fill="#fff" stroke="#000" stroke-width="0.9"/>
<circle cx="581" cy="386.5" r="2.5" fill="#fff" stroke="#000" stroke-width="0.9"/>
<circle cx="589.4" cy="386.5" r="2.5" fill="#fff" stroke="#000" stroke-width="0.9"/>
<circle cx="600.2" cy="363.3" r="2.5" fill="#fff" stroke="#000" stroke-width="0.9"/>
<circle cx="610" cy="360.8" r="2.5" fill="#fff" stroke="#000" stroke-width="0.9"/>
<circle cx="604.7" cy="370.2" r="2.5" fill="#fff" stroke="#000" stroke-width="0.9"/>
<circle cx="604.7" cy="376.6" r="2.5" fill="#fff" stroke="#000" stroke-width="0.9"/>
<polyline points="546.2,396.4 546.2,374.1 565.3,374.1 565.3,380.8" fill="none" stroke="#000" stroke-width="1.2"/>
<text x="555.4" y="374" font-size="10" font-weight="bold" text-anchor="middle">*</text>
<polyline points="565.3,368.4 565.3,362.2 584.7,362.2 584.7,368.4" fill="none" stroke="#000" stroke-width="1.2"/>
<text x="575.3" y="360.1" font-size="10" font-weight="bold" text-anchor="middle">**</text>
<polyline points="584.7,355.2 584.7,349.3 603.8,349.3 603.8,355.2" fill="none" stroke="#000" stroke-width="1.2"/>
<text x="594.4" y="347.7" font-size="10" font-weight="bold" text-anchor="middle">**</text>
<text x="490.8" y="409.4" font-size="10" font-weight="bold" text-anchor="middle" transform="rotate(-90 490.8 409.4)">CellROX green</text>
<text x="501.9" y="409.4" font-size="10" font-weight="bold" text-anchor="middle" transform="rotate(-90 501.9 409.4)">(MFI, fold)</text>
<text x="545.4" y="489.4" font-size="11" text-anchor="middle">+</text>
<text x="565.1" y="489.4" font-size="11" text-anchor="middle">+</text>
<text x="584.9" y="489.4" font-size="11" text-anchor="middle">-</text>
<text x="604.8" y="489.4" font-size="11" text-anchor="middle">-</text>
<text x="622.3" y="489.4" font-size="11.3">: DMSO</text>
<text x="545.4" y="501.3" font-size="11" text-anchor="middle">-</text>
<text x="565.1" y="501.3" font-size="11" text-anchor="middle">+</text>
<text x="584.9" y="501.3" font-size="11" text-anchor="middle">-</text>
<text x="604.8" y="501.3" font-size="11" text-anchor="middle">+</text>
<text x="622.3" y="501.3" font-size="11.3">: ASNase</text>
<text x="545.4" y="513.2" font-size="11" text-anchor="middle">-</text>
<text x="565.1" y="513.2" font-size="11" text-anchor="middle">-</text>
<text x="584.9" y="513.2" font-size="11" text-anchor="middle">+</text>
<text x="604.8" y="513.2" font-size="11" text-anchor="middle">+</text>
<text x="622.3" y="513.2" font-size="11.3">: BI-4916</text>
<text x="4.5" y="445.5" font-size="16" font-weight="bold">h.</text>
<line x1="47.4" y1="612.75" x2="47.4" y2="471.1" stroke="#000" stroke-width="1.3"/>
<line x1="42.1" y1="612.1" x2="47.4" y2="612.1" stroke="#000" stroke-width="1.3"/>
<text x="39.6" y="615.88" font-size="10.5" font-weight="bold" text-anchor="end">0</text>
<line x1="42.1" y1="583.9" x2="47.4" y2="583.9" stroke="#000" stroke-width="1.3"/>
<text x="39.6" y="587.68" font-size="10.5" font-weight="bold" text-anchor="end">20</text>
<line x1="42.1" y1="555.7" x2="47.4" y2="555.7" stroke="#000" stroke-width="1.3"/>
<text x="39.6" y="559.48" font-size="10.5" font-weight="bold" text-anchor="end">40</text>
<line x1="42.1" y1="527.5" x2="47.4" y2="527.5" stroke="#000" stroke-width="1.3"/>
<text x="39.6" y="531.28" font-size="10.5" font-weight="bold" text-anchor="end">60</text>
<line x1="42.1" y1="499.3" x2="47.4" y2="499.3" stroke="#000" stroke-width="1.3"/>
<text x="39.6" y="503.08" font-size="10.5" font-weight="bold" text-anchor="end">80</text>
<line x1="42.1" y1="471.1" x2="47.4" y2="471.1" stroke="#000" stroke-width="1.3"/>
<text x="39.6" y="474.88" font-size="10.5" font-weight="bold" text-anchor="end">100</text>
<line x1="44.9" y1="598" x2="47.4" y2="598" stroke="#000" stroke-width="1.3"/>
<line x1="44.9" y1="569.8" x2="47.4" y2="569.8" stroke="#000" stroke-width="1.3"/>
<line x1="44.9" y1="541.6" x2="47.4" y2="541.6" stroke="#000" stroke-width="1.3"/>
<line x1="44.9" y1="513.4" x2="47.4" y2="513.4" stroke="#000" stroke-width="1.3"/>
<line x1="44.9" y1="485.2" x2="47.4" y2="485.2" stroke="#000" stroke-width="1.3"/>
<rect x="53.5" y="586.01" width="12.8" height="26.09" fill="#8c8c8c"/>
<rect x="68.1" y="588.84" width="12.8" height="23.26" fill="#00f08c"/>
<rect x="87.9" y="552.88" width="12.8" height="59.22" fill="#8c8c8c"/>
<rect x="102.4" y="562.05" width="12.8" height="50.05" fill="#00f08c"/>
<rect x="121.8" y="555.7" width="12.8" height="56.4" fill="#8c8c8c"/>
<rect x="136.3" y="589.96" width="12.8" height="22.14" fill="#00f08c"/>
<rect x="156.1" y="514.81" width="12.8" height="97.29" fill="#8c8c8c"/>
<rect x="170.3" y="556.26" width="12.8" height="55.84" fill="#00f08c"/>
<line x1="74.5" y1="588.84" x2="74.5" y2="585.5" stroke="#00f08c" stroke-width="1.1"/>
<line x1="71" y1="585.5" x2="78" y2="585.5" stroke="#00f08c" stroke-width="1.1"/>
<line x1="94.3" y1="552.88" x2="94.3" y2="541.5" stroke="#8c8c8c" stroke-width="1.1"/>
<line x1="90.8" y1="541.5" x2="97.8" y2="541.5" stroke="#8c8c8c" stroke-width="1.1"/>
<line x1="108.8" y1="562.05" x2="108.8" y2="556.4" stroke="#00f08c" stroke-width="1.1"/>
<line x1="105.3" y1="556.4" x2="112.3" y2="556.4" stroke="#00f08c" stroke-width="1.1"/>
<line x1="128.2" y1="555.7" x2="128.2" y2="542.8" stroke="#8c8c8c" stroke-width="1.1"/>
<line x1="124.7" y1="542.8" x2="131.7" y2="542.8" stroke="#8c8c8c" stroke-width="1.1"/>
<line x1="142.7" y1="589.96" x2="142.7" y2="587" stroke="#00f08c" stroke-width="1.1"/>
<line x1="139.2" y1="587" x2="146.2" y2="587" stroke="#00f08c" stroke-width="1.1"/>
<line x1="162.5" y1="514.81" x2="162.5" y2="505.6" stroke="#8c8c8c" stroke-width="1.1"/>
<line x1="159" y1="505.6" x2="166" y2="505.6" stroke="#8c8c8c" stroke-width="1.1"/>
<line x1="176.7" y1="556.26" x2="176.7" y2="553.6" stroke="#00f08c" stroke-width="1.1"/>
<line x1="173.2" y1="553.6" x2="180.2" y2="553.6" stroke="#00f08c" stroke-width="1.1"/>
<line x1="41.6" y1="612.1" x2="184.5" y2="612.1" stroke="#000" stroke-width="1.3"/>
<line x1="66.9" y1="612.1" x2="66.9" y2="615.9" stroke="#000" stroke-width="1.2"/>
<line x1="101.2" y1="612.1" x2="101.2" y2="615.9" stroke="#000" stroke-width="1.2"/>
<line x1="135.3" y1="612.1" x2="135.3" y2="615.9" stroke="#000" stroke-width="1.2"/>
<line x1="169.6" y1="612.1" x2="169.6" y2="615.9" stroke="#000" stroke-width="1.2"/>
<circle cx="55.9" cy="587.9" r="2.6" fill="#fff" stroke="#000" stroke-width="0.9"/>
<circle cx="63.4" cy="583.9" r="2.6" fill="#fff" stroke="#000" stroke-width="0.9"/>
<circle cx="55.9" cy="594.9" r="2.6" fill="#fff" stroke="#000" stroke-width="0.9"/>
<circle cx="63.4" cy="593.3" r="2.6" fill="#fff" stroke="#000" stroke-width="0.9"/>
<circle cx="94.2" cy="542.3" r="2.6" fill="#fff" stroke="#000" stroke-width="0.9"/>
<circle cx="90.2" cy="549.8" r="2.6" fill="#fff" stroke="#000" stroke-width="0.9"/>
<circle cx="97.9" cy="553.5" r="2.6" fill="#fff" stroke="#000" stroke-width="0.9"/>
<circle cx="94.2" cy="558.7" r="2.6" fill="#fff" stroke="#000" stroke-width="0.9"/>
<circle cx="127.8" cy="539.7" r="2.6" fill="#fff" stroke="#000" stroke-width="0.9"/>
<circle cx="127.8" cy="553.2" r="2.6" fill="#fff" stroke="#000" stroke-width="0.9"/>
<circle cx="127.8" cy="560.2" r="2.6" fill="#fff" stroke="#000" stroke-width="0.9"/>
<circle cx="127.8" cy="568.6" r="2.6" fill="#fff" stroke="#000" stroke-width="0.9"/>
<circle cx="162.1" cy="502.6" r="2.6" fill="#fff" stroke="#000" stroke-width="0.9"/>
<circle cx="158.5" cy="513.8" r="2.6" fill="#fff" stroke="#000" stroke-width="0.9"/>
<circle cx="166" cy="517.5" r="2.6" fill="#fff" stroke="#000" stroke-width="0.9"/>
<circle cx="162.1" cy="524" r="2.6" fill="#fff" stroke="#000" stroke-width="0.9"/>
<polygon points="70.4,583.8 67.5,588.88 73.3,588.88" fill="#fff" stroke="#000" stroke-width="0.9"/>
<polygon points="78.1,583.8 75.2,588.88 81,588.88" fill="#fff" stroke="#000" stroke-width="0.9"/>
<polygon points="70.4,592 67.5,597.07 73.3,597.07" fill="#fff" stroke="#000" stroke-width="0.9"/>
<polygon points="78.1,591.5 75.2,596.57 81,596.57" fill="#fff" stroke="#000" stroke-width="0.9"/>
<polygon points="108.2,549.9 105.3,554.97 111.1,554.97" fill="#fff" stroke="#000" stroke-width="0.9"/>
<polygon points="104.2,564 101.3,569.07 107.1,569.07" fill="#fff" stroke="#000" stroke-width="0.9"/>
<polygon points="108.4,562.3 105.5,567.38 111.3,567.38" fill="#fff" stroke="#000" stroke-width="0.9"/>
<polygon points="112.9,562.3 110,567.38 115.8,567.38" fill="#fff" stroke="#000" stroke-width="0.9"/>
<polygon points="138.6,585 135.7,590.07 141.5,590.07" fill="#fff" stroke="#000" stroke-width="0.9"/>
<polygon points="142.8,586.1 139.9,591.17 145.7,591.17" fill="#fff" stroke="#000" stroke-width="0.9"/>
<polygon points="146.8,589 143.9,594.07 149.7,594.07" fill="#fff" stroke="#000" stroke-width="0.9"/>
<polygon points="139.3,591.3 136.4,596.38 142.2,596.38" fill="#fff" stroke="#000" stroke-width="0.9"/>
<polygon points="172.8,550.3 169.9,555.38 175.7,555.38" fill="#fff" stroke="#000" stroke-width="0.9"/>
<polygon points="176.9,552.8 174,557.88 179.8,557.88" fill="#fff" stroke="#000" stroke-width="0.9"/>
<polygon points="180.3,555.4 177.4,560.47 183.2,560.47" fill="#fff" stroke="#000" stroke-width="0.9"/>
<polygon points="172.8,558.9 169.9,563.97 175.7,563.97" fill="#fff" stroke="#000" stroke-width="0.9"/>
<polyline points="93.7,500.5 93.7,457.6 163.2,457.6 163.2,461.7" fill="none" stroke="#000" stroke-width="1.2"/>
<text x="129.9" y="455.7" font-size="10" font-weight="bold" text-anchor="middle">****</text>
<polyline points="127.8,514.8 127.8,472.9 163.2,472.9 163.2,476" fill="none" stroke="#000" stroke-width="1.2"/>
<text x="145.6" y="471.7" font-size="10" font-weight="bold" text-anchor="middle">****</text>
<polyline points="163.2,493.4 163.2,488.2 177.5,488.2 177.5,545.5" fill="none" stroke="#000" stroke-width="1.2"/>
<text x="171.3" y="485.9" font-size="10" font-weight="bold" text-anchor="middle">****</text>
<polyline points="59.7,555.3 59.7,512.4 94.4,512.4 94.4,517.1" fill="none" stroke="#000" stroke-width="1.2"/>
<text x="77.3" y="508.3" font-size="10" font-weight="bold" text-anchor="middle">****</text>
<polyline points="94,532.8 94,529.7 108.9,529.7 108.9,543.6" fill="none" stroke="#000" stroke-width="1.2"/>
<text x="101.6" y="524.6" font-size="10.5" font-style="italic" text-anchor="middle">ns</text>
<line x1="110.4" y1="521.2" x2="116.9" y2="521.2" stroke="#bbb" stroke-width="1"/>
<polyline points="129.2,531.2 129.2,527.7 143.1,527.7 143.1,578.5" fill="none" stroke="#000" stroke-width="1.2"/>
<text x="136.6" y="524.8" font-size="10" font-weight="bold" text-anchor="middle">****</text>
<polyline points="59.9,577.4 59.9,574.6 74.6,574.6 74.6,577.4" fill="none" stroke="#000" stroke-width="1.2"/>
<text x="67.6" y="570.4" font-size="10.5" font-style="italic" text-anchor="middle">ns</text>
<circle cx="194.8" cy="486.6" r="2.6" fill="#fff" stroke="#000" stroke-width="0.9"/>
<text x="202" y="490.9" font-size="10.4">CTL</text>
<polygon points="194.8,502.4 192.2,506.95 197.4,506.95" fill="#fff" stroke="#000" stroke-width="0.9"/>
<text x="202" y="508.7" font-size="10.4" fill="#00c060">NAC</text>
<text x="18.19" y="539.6" font-size="10.8" font-weight="bold" text-anchor="middle" transform="rotate(-90 18.19 539.6)">% dead cells (DAPI +)</text>
<text x="66.9" y="631.4" font-size="11" text-anchor="middle">+</text>
<text x="101.2" y="631.4" font-size="11" text-anchor="middle">+</text>
<text x="135.3" y="631.4" font-size="11" text-anchor="middle">-</text>
<text x="169.6" y="631.4" font-size="11" text-anchor="middle">-</text>
<text x="186.6" y="631.4" font-size="11.3">: DMSO</text>
<text x="66.9" y="643.6" font-size="11" text-anchor="middle">-</text>
<text x="101.2" y="643.6" font-size="11" text-anchor="middle">+</text>
<text x="135.3" y="643.6" font-size="11" text-anchor="middle">-</text>
<text x="169.6" y="643.6" font-size="11" text-anchor="middle">+</text>
<text x="186.6" y="643.6" font-size="11.3">: ASNase</text>
<text x="66.9" y="655.8" font-size="11" text-anchor="middle">-</text>
<text x="101.2" y="655.8" font-size="11" text-anchor="middle">-</text>
<text x="135.3" y="655.8" font-size="11" text-anchor="middle">+</text>
<text x="169.6" y="655.8" font-size="11" text-anchor="middle">+</text>
<text x="186.6" y="655.8" font-size="11.3">: BI-4916</text>
<text x="250.8" y="418" font-size="16" font-weight="bold">i.</text>
<rect x="329.9" y="419.2" width="15.18" height="16.94" fill="#00188e"/>
<rect x="344.78" y="419.2" width="15.18" height="16.94" fill="#00188e"/>
<rect x="359.66" y="419.2" width="15.18" height="16.94" fill="#1a2296"/>
<rect x="374.54" y="419.2" width="15.18" height="16.94" fill="#4a9a9a"/>
<rect x="389.42" y="419.2" width="15.18" height="16.94" fill="#d6d6ee"/>
<text x="322.4" y="430.72" font-size="9" text-anchor="end">115</text>
<line x1="325.7" y1="427.52" x2="329.9" y2="427.52" stroke="#000" stroke-width="1.2"/>
<rect x="329.9" y="435.84" width="15.18" height="16.94" fill="#00188e"/>
<rect x="344.78" y="435.84" width="15.18" height="16.94" fill="#141e94"/>
<rect x="359.66" y="435.84" width="15.18" height="16.94" fill="#3040aa"/>
<rect x="374.54" y="435.84" width="15.18" height="16.94" fill="#2a8a8a"/>
<rect x="389.42" y="435.84" width="15.18" height="16.94" fill="#ececf6"/>
<text x="322.4" y="447.36" font-size="9" text-anchor="end">136</text>
<line x1="325.7" y1="444.16" x2="329.9" y2="444.16" stroke="#000" stroke-width="1.2"/>
<rect x="329.9" y="452.48" width="15.18" height="16.94" fill="#00188e"/>
<rect x="344.78" y="452.48" width="15.18" height="16.94" fill="#00188e"/>
<rect x="359.66" y="452.48" width="15.18" height="16.94" fill="#18209a"/>
<rect x="374.54" y="452.48" width="15.18" height="16.94" fill="#2e8c8c"/>
<rect x="389.42" y="452.48" width="15.18" height="16.94" fill="#72b4b4"/>
<text x="322.4" y="464" font-size="9" text-anchor="end">309</text>
<line x1="325.7" y1="460.8" x2="329.9" y2="460.8" stroke="#000" stroke-width="1.2"/>
<rect x="329.9" y="469.12" width="15.18" height="16.94" fill="#00188e"/>
<rect x="344.78" y="469.12" width="15.18" height="16.94" fill="#00188e"/>
<rect x="359.66" y="469.12" width="15.18" height="16.94" fill="#00188e"/>
<rect x="374.54" y="469.12" width="15.18" height="16.94" fill="#3a9494"/>
<rect x="389.42" y="469.12" width="15.18" height="16.94" fill="#108888"/>
<text x="322.4" y="480.65" font-size="9" text-anchor="end">504</text>
<line x1="325.7" y1="477.45" x2="329.9" y2="477.45" stroke="#000" stroke-width="1.2"/>
<rect x="329.9" y="485.77" width="15.18" height="16.94" fill="#00188e"/>
<rect x="344.78" y="485.77" width="15.18" height="16.94" fill="#00188e"/>
<rect x="359.66" y="485.77" width="15.18" height="16.94" fill="#1a2298"/>
<rect x="374.54" y="485.77" width="15.18" height="16.94" fill="#3a9494"/>
<rect x="389.42" y="485.77" width="15.18" height="16.94" fill="#68aeae"/>
<text x="322.4" y="497.29" font-size="9" text-anchor="end">505</text>
<line x1="325.7" y1="494.09" x2="329.9" y2="494.09" stroke="#000" stroke-width="1.2"/>
<rect x="329.9" y="502.41" width="15.18" height="16.94" fill="#00188e"/>
<rect x="344.78" y="502.41" width="15.18" height="16.94" fill="#00188e"/>
<rect x="359.66" y="502.41" width="15.18" height="16.94" fill="#3040aa"/>
<rect x="374.54" y="502.41" width="15.18" height="16.94" fill="#3a9494"/>
<rect x="389.42" y="502.41" width="15.18" height="16.94" fill="#f6f6fc"/>
<text x="322.4" y="513.93" font-size="9" text-anchor="end">506</text>
<line x1="325.7" y1="510.73" x2="329.9" y2="510.73" stroke="#000" stroke-width="1.2"/>
<rect x="329.9" y="519.05" width="15.18" height="16.94" fill="#00188e"/>
<rect x="344.78" y="519.05" width="15.18" height="16.94" fill="#00188e"/>
<rect x="359.66" y="519.05" width="15.18" height="16.94" fill="#5058b8"/>
<rect x="374.54" y="519.05" width="15.18" height="16.94" fill="#4a9c9c"/>
<rect x="389.42" y="519.05" width="15.18" height="16.94" fill="#72b4b4"/>
<text x="322.4" y="530.57" font-size="9" text-anchor="end">517</text>
<line x1="325.7" y1="527.37" x2="329.9" y2="527.37" stroke="#000" stroke-width="1.2"/>
<rect x="329.9" y="535.69" width="15.18" height="16.94" fill="#00188e"/>
<rect x="344.78" y="535.69" width="15.18" height="16.94" fill="#00188e"/>
<rect x="359.66" y="535.69" width="15.18" height="16.94" fill="#3038a8"/>
<rect x="374.54" y="535.69" width="15.18" height="16.94" fill="#0a8484"/>
<rect x="389.42" y="535.69" width="15.18" height="16.94" fill="#0a8484"/>
<text x="322.4" y="547.21" font-size="9" text-anchor="end">524</text>
<line x1="325.7" y1="544.01" x2="329.9" y2="544.01" stroke="#000" stroke-width="1.2"/>
<rect x="329.9" y="552.33" width="15.18" height="16.94" fill="#00188e"/>
<rect x="344.78" y="552.33" width="15.18" height="16.94" fill="#00188e"/>
<rect x="359.66" y="552.33" width="15.18" height="16.94" fill="#3038a8"/>
<rect x="374.54" y="552.33" width="15.18" height="16.94" fill="#3a9494"/>
<rect x="389.42" y="552.33" width="15.18" height="16.94" fill="#ffffff"/>
<text x="322.4" y="563.85" font-size="9" text-anchor="end">549</text>
<line x1="325.7" y1="560.65" x2="329.9" y2="560.65" stroke="#000" stroke-width="1.2"/>
<rect x="329.9" y="568.97" width="15.18" height="16.94" fill="#00188e"/>
<rect x="344.78" y="568.97" width="15.18" height="16.94" fill="#00188e"/>
<rect x="359.66" y="568.97" width="15.18" height="16.94" fill="#2028a0"/>
<rect x="374.54" y="568.97" width="15.18" height="16.94" fill="#68acac"/>
<rect x="389.42" y="568.97" width="15.18" height="16.94" fill="#4a50b0"/>
<text x="322.4" y="580.5" font-size="9" text-anchor="end">649</text>
<line x1="325.7" y1="577.3" x2="329.9" y2="577.3" stroke="#000" stroke-width="1.2"/>
<rect x="329.9" y="585.62" width="15.18" height="16.94" fill="#00188e"/>
<rect x="344.78" y="585.62" width="15.18" height="16.94" fill="#00188e"/>
<rect x="359.66" y="585.62" width="15.18" height="16.94" fill="#5058b8"/>
<rect x="374.54" y="585.62" width="15.18" height="16.94" fill="#3a9898"/>
<rect x="389.42" y="585.62" width="15.18" height="16.94" fill="#e8e8f6"/>
<text x="322.4" y="597.14" font-size="9" text-anchor="end">688</text>
<line x1="325.7" y1="593.94" x2="329.9" y2="593.94" stroke="#000" stroke-width="1.2"/>
<rect x="329.9" y="602.26" width="15.18" height="16.94" fill="#00188e"/>
<rect x="344.78" y="602.26" width="15.18" height="16.94" fill="#00188e"/>
<rect x="359.66" y="602.26" width="15.18" height="16.94" fill="#7078c4"/>
<rect x="374.54" y="602.26" width="15.18" height="16.94" fill="#6aaeae"/>
<rect x="389.42" y="602.26" width="15.18" height="16.94" fill="#8890cc"/>
<text x="322.4" y="613.78" font-size="9" text-anchor="end">801</text>
<line x1="325.7" y1="610.58" x2="329.9" y2="610.58" stroke="#000" stroke-width="1.2"/>
<rect x="329.9" y="419.2" width="74.40" height="199.70" fill="none" stroke="#000" stroke-width="1.8"/>
<line x1="301.8" y1="425.5" x2="301.8" y2="613.3" stroke="#000" stroke-width="1"/>
<text x="298" y="523.6" font-size="11.5" text-anchor="end">Eμ-<tspan font-style="italic">Myc</tspan> #</text>
<text x="340.94" y="625.4" font-size="10" font-weight="bold" font-style="italic" text-anchor="end" transform="rotate(-90 340.94 625.4)">slc7a11</text>
<text x="355.82" y="625.4" font-size="10" font-weight="bold" font-style="italic" text-anchor="end" transform="rotate(-90 355.82 625.4)">slc7a9</text>
<text x="370.7" y="625.4" font-size="10" font-weight="bold" font-style="italic" text-anchor="end" transform="rotate(-90 370.7 625.4)">slc3a1</text>
<text x="385.58" y="625.4" font-size="10" font-weight="bold" font-style="italic" text-anchor="end" transform="rotate(-90 385.58 625.4)">cd98</text>
<text x="400.46" y="625.4" font-size="10" font-weight="bold" font-style="italic" text-anchor="end" transform="rotate(-90 400.46 625.4)">lmo2</text>
<defs><linearGradient id="cb" x1="0" y1="0" x2="0" y2="1"><stop offset="0" stop-color="#00188e"/><stop offset="0.17" stop-color="#3a3fa8"/><stop offset="0.33" stop-color="#a8a8d8"/><stop offset="0.5" stop-color="#ffffff"/><stop offset="0.67" stop-color="#b8dcdc"/><stop offset="0.83" stop-color="#5aa8a8"/><stop offset="1" stop-color="#0a8080"/></linearGradient></defs>
<rect x="412" y="418.3" width="12.7" height="86.9" fill="url(#cb)" stroke="#000" stroke-width="1.5"/>
<text x="430.2" y="422.52" font-size="9.5">0</text>
<line x1="412" y1="433.32" x2="414.6" y2="433.32" stroke="#000" stroke-width="1.1"/>
<line x1="422.1" y1="433.32" x2="424.7" y2="433.32" stroke="#000" stroke-width="1.1"/>
<text x="430.2" y="436.74" font-size="9.5">1</text>
<line x1="412" y1="447.53" x2="414.6" y2="447.53" stroke="#000" stroke-width="1.1"/>
<line x1="422.1" y1="447.53" x2="424.7" y2="447.53" stroke="#000" stroke-width="1.1"/>
<text x="430.2" y="450.95" font-size="9.5">2</text>
<line x1="412" y1="461.75" x2="414.6" y2="461.75" stroke="#000" stroke-width="1.1"/>
<line x1="422.1" y1="461.75" x2="424.7" y2="461.75" stroke="#000" stroke-width="1.1"/>
<text x="430.2" y="465.17" font-size="9.5">3</text>
<line x1="412" y1="475.97" x2="414.6" y2="475.97" stroke="#000" stroke-width="1.1"/>
<line x1="422.1" y1="475.97" x2="424.7" y2="475.97" stroke="#000" stroke-width="1.1"/>
<text x="430.2" y="479.39" font-size="9.5">4</text>
<line x1="412" y1="490.18" x2="414.6" y2="490.18" stroke="#000" stroke-width="1.1"/>
<line x1="422.1" y1="490.18" x2="424.7" y2="490.18" stroke="#000" stroke-width="1.1"/>
<text x="430.2" y="493.6" font-size="9.5">5</text>
<text x="430.2" y="507.82" font-size="9.5">6</text>
<text x="421.8" y="517.3" font-size="10" text-anchor="middle">log<tspan font-size="7" dy="2">2</tspan></text>
<text x="421.8" y="527.1" font-size="10" text-anchor="middle">(fpkm)</text>
<text x="460.5" y="542" font-size="16" font-weight="bold">j.</text>
<rect x="512" y="552.3" width="18.35" height="18.7" fill="#00188e"/>
<rect x="530.05" y="552.3" width="18.35" height="18.7" fill="#00188e"/>
<rect x="548.1" y="552.3" width="18.35" height="18.7" fill="#2a35a8"/>
<rect x="566.15" y="552.3" width="18.35" height="18.7" fill="#d8d8ee"/>
<rect x="584.2" y="552.3" width="18.35" height="18.7" fill="#a8d0d0"/>
<rect x="602.25" y="552.3" width="18.35" height="18.7" fill="#5aa8a8"/>
<rect x="620.3" y="552.3" width="18.35" height="18.7" fill="#5aa8a8"/>
<rect x="638.35" y="552.3" width="18.35" height="18.7" fill="#4aa0a0"/>
<rect x="512" y="570.7" width="18.35" height="18.7" fill="#00188e"/>
<rect x="530.05" y="570.7" width="18.35" height="18.7" fill="#00168a"/>
<rect x="548.1" y="570.7" width="18.35" height="18.7" fill="#2a35a8"/>
<rect x="566.15" y="570.7" width="18.35" height="18.7" fill="#eaeaf6"/>
<rect x="584.2" y="570.7" width="18.35" height="18.7" fill="#cce4e4"/>
<rect x="602.25" y="570.7" width="18.35" height="18.7" fill="#1a8c8c"/>
<rect x="620.3" y="570.7" width="18.35" height="18.7" fill="#5aa8a8"/>
<rect x="638.35" y="570.7" width="18.35" height="18.7" fill="#0a8484"/>
<rect x="512" y="552.3" width="144.40" height="36.80" fill="none" stroke="#000" stroke-width="1.8"/>
<line x1="509.4" y1="561.5" x2="512" y2="561.5" stroke="#000" stroke-width="1.2"/>
<line x1="509.4" y1="579.9" x2="512" y2="579.9" stroke="#000" stroke-width="1.2"/>
<text x="505" y="565" font-size="11.7" text-anchor="end">Vehicle</text>
<text x="505" y="583.6" font-size="11.6" text-anchor="end" fill="#1a56ff">ASNase</text>
<line x1="521.02" y1="589.1" x2="521.02" y2="591.9" stroke="#000" stroke-width="1.2"/>
<text x="524.62" y="595.7" font-size="10" font-weight="bold" font-style="italic" text-anchor="end" transform="rotate(-90 524.62 595.7)">slc7a11</text>
<line x1="539.08" y1="589.1" x2="539.08" y2="591.9" stroke="#000" stroke-width="1.2"/>
<text x="542.68" y="595.7" font-size="10" font-weight="bold" font-style="italic" text-anchor="end" transform="rotate(-90 542.68 595.7)">slc7a9</text>
<line x1="557.12" y1="589.1" x2="557.12" y2="591.9" stroke="#000" stroke-width="1.2"/>
<text x="560.73" y="595.7" font-size="10" font-weight="bold" font-style="italic" text-anchor="end" transform="rotate(-90 560.73 595.7)">slc3a1</text>
<line x1="575.17" y1="589.1" x2="575.17" y2="591.9" stroke="#000" stroke-width="1.2"/>
<text x="578.77" y="595.7" font-size="10" font-weight="bold" font-style="italic" text-anchor="end" transform="rotate(-90 578.77 595.7)">gclm</text>
<line x1="593.23" y1="589.1" x2="593.23" y2="591.9" stroke="#000" stroke-width="1.2"/>
<text x="596.83" y="595.7" font-size="10" font-weight="bold" font-style="italic" text-anchor="end" transform="rotate(-90 596.83 595.7)">lmo2</text>
<line x1="611.27" y1="589.1" x2="611.27" y2="591.9" stroke="#000" stroke-width="1.2"/>
<text x="614.88" y="595.7" font-size="10" font-weight="bold" font-style="italic" text-anchor="end" transform="rotate(-90 614.88 595.7)">hmox1</text>
<line x1="629.33" y1="589.1" x2="629.33" y2="591.9" stroke="#000" stroke-width="1.2"/>
<text x="632.93" y="595.7" font-size="10" font-weight="bold" font-style="italic" text-anchor="end" transform="rotate(-90 632.93 595.7)">cd98</text>
<line x1="647.38" y1="589.1" x2="647.38" y2="591.9" stroke="#000" stroke-width="1.2"/>
<text x="650.98" y="595.7" font-size="10" font-weight="bold" font-style="italic" text-anchor="end" transform="rotate(-90 650.98 595.7)">gclc</text>
<defs><linearGradient id="cb2" x1="0" y1="0" x2="0" y2="1"><stop offset="0" stop-color="#00188e"/><stop offset="0.155" stop-color="#3a3fa8"/><stop offset="0.31" stop-color="#a8a8d8"/><stop offset="0.465" stop-color="#ffffff"/><stop offset="0.62" stop-color="#b8dcdc"/><stop offset="0.775" stop-color="#5aa8a8"/><stop offset="0.93" stop-color="#0a8080"/><stop offset="1" stop-color="#0a8080"/></linearGradient></defs>
<rect x="662.7" y="552.1" width="11.2" height="103.8" fill="url(#cb2)" stroke="#000" stroke-width="1.5"/>
<text x="679.4" y="556.5" font-size="10">0</text>
<line x1="662.7" y1="568.82" x2="665.3" y2="568.82" stroke="#000" stroke-width="1.1"/>
<line x1="671.3" y1="568.82" x2="673.9" y2="568.82" stroke="#000" stroke-width="1.1"/>
<text x="679.4" y="572.42" font-size="10">1</text>
<line x1="662.7" y1="584.73" x2="665.3" y2="584.73" stroke="#000" stroke-width="1.1"/>
<line x1="671.3" y1="584.73" x2="673.9" y2="584.73" stroke="#000" stroke-width="1.1"/>
<text x="679.4" y="588.33" font-size="10">2</text>
<line x1="662.7" y1="600.65" x2="665.3" y2="600.65" stroke="#000" stroke-width="1.1"/>
<line x1="671.3" y1="600.65" x2="673.9" y2="600.65" stroke="#000" stroke-width="1.1"/>
<text x="679.4" y="604.25" font-size="10">3</text>
<line x1="662.7" y1="616.57" x2="665.3" y2="616.57" stroke="#000" stroke-width="1.1"/>
<line x1="671.3" y1="616.57" x2="673.9" y2="616.57" stroke="#000" stroke-width="1.1"/>
<text x="679.4" y="620.17" font-size="10">4</text>
<line x1="662.7" y1="632.48" x2="665.3" y2="632.48" stroke="#000" stroke-width="1.1"/>
<line x1="671.3" y1="632.48" x2="673.9" y2="632.48" stroke="#000" stroke-width="1.1"/>
<text x="679.4" y="636.08" font-size="10">5</text>
<line x1="662.7" y1="648.4" x2="665.3" y2="648.4" stroke="#000" stroke-width="1.1"/>
<line x1="671.3" y1="648.4" x2="673.9" y2="648.4" stroke="#000" stroke-width="1.1"/>
<text x="679.4" y="652" font-size="10">6</text>
<text x="661" y="667" font-size="10.5">log<tspan font-size="7" dy="1.5">2</tspan></text>
<text x="655.3" y="679.7" font-size="10.5">(fpkm)</text>
<text x="-0.5" y="684.4" font-size="16" font-weight="bold">k.</text>
<text x="0" y="0" font-size="10.8" font-style="italic" transform="translate(91.8 687.5) scale(1.2 1)">slc7a11</text>
<rect x="47.3" y="694.2" width="14.67" height="164.7" fill="#fafafa"/>
<rect x="61.77" y="694.2" width="14.67" height="164.7" fill="#e6e6e6"/>
<rect x="76.24" y="694.2" width="14.67" height="164.7" fill="#fafafa"/>
<rect x="90.71" y="694.2" width="14.67" height="164.7" fill="#e6e6e6"/>
<rect x="105.18" y="694.2" width="14.67" height="164.7" fill="#fafafa"/>
<rect x="119.65" y="694.2" width="14.67" height="164.7" fill="#e6e6e6"/>
<rect x="134.12" y="694.2" width="14.67" height="164.7" fill="#fafafa"/>
<rect x="148.59" y="694.2" width="14.67" height="164.7" fill="#e6e6e6"/>
<rect x="163.06" y="694.2" width="14.67" height="164.7" fill="#fafafa"/>
<rect x="177.53" y="694.2" width="14.67" height="164.7" fill="#e6e6e6"/>
<polyline points="47.9,858.63 48.14,858.63 48.39,858.63 48.63,858.63 48.87,858.63 49.12,858.62 49.36,858.62 49.6,858.62 49.85,858.62 50.09,858.61 50.33,858.61 50.58,858.6 50.82,858.58 51.06,858.56 51.31,858.54 51.55,858.5 51.79,858.46 52.04,858.41 52.28,858.35 52.52,858.28 52.77,858.19 53.01,858.08 53.25,857.95 53.5,857.8 53.74,857.63 53.98,857.42 54.23,857.19 54.47,856.93 54.72,856.63 54.96,856.28 55.2,855.9 55.45,855.46 55.69,854.98 55.93,854.44 56.18,853.83 56.42,853.17 56.66,852.43 56.91,851.62 57.15,850.72 57.39,849.74 57.64,848.67 57.88,847.5 58.12,846.23 58.37,844.84 58.61,843.34 58.85,841.71 59.1,839.95 59.34,838.05 59.58,836.01 59.83,833.81 60.07,831.45" fill="none" stroke="#ff5a5a" stroke-width="2.0" stroke-linejoin="round"/>
<rect x="59.17" y="828" width="1.8" height="1.4" fill="#ff5a5a"/>
<rect x="59.17" y="826.17" width="1.8" height="1.4" fill="#ff5a5a"/>
<rect x="59.17" y="824.34" width="1.8" height="1.4" fill="#ff5a5a"/>
<rect x="59.17" y="822.51" width="1.8" height="1.4" fill="#ff5a5a"/>
<rect x="59.17" y="820.68" width="1.8" height="1.4" fill="#ff5a5a"/>
<rect x="59.17" y="818.85" width="1.8" height="1.4" fill="#ff5a5a"/>
<rect x="59.17" y="817.02" width="1.8" height="1.4" fill="#ff5a5a"/>
<rect x="59.17" y="814.28" width="1.8" height="1.4" fill="#ff5a5a"/>
<rect x="59.17" y="810.62" width="1.8" height="1.4" fill="#ff5a5a"/>
<rect x="59.17" y="805.13" width="1.8" height="1.4" fill="#ff5a5a"/>
<rect x="59.17" y="800.55" width="1.8" height="1.4" fill="#ff5a5a"/>
<rect x="59.17" y="795.98" width="1.8" height="1.4" fill="#ff5a5a"/>
<rect x="59.17" y="791.4" width="1.8" height="1.4" fill="#ff5a5a"/>
<rect x="59.17" y="784.08" width="1.8" height="1.4" fill="#ff5a5a"/>
<rect x="59.17" y="775.85" width="1.8" height="1.4" fill="#ff5a5a"/>
<rect x="59.17" y="772.19" width="1.8" height="1.4" fill="#ff5a5a"/>
<rect x="59.17" y="768.53" width="1.8" height="1.4" fill="#ff5a5a"/>
<rect x="59.17" y="763.95" width="1.8" height="1.4" fill="#ff5a5a"/>
<rect x="50.2" y="855.51" width="9.4" height="2.2" fill="#000"/>
<polyline points="62.37,858.63 62.61,858.63 62.86,858.63 63.1,858.63 63.34,858.62 63.59,858.62 63.83,858.62 64.07,858.62 64.32,858.61 64.56,858.6 64.8,858.59 65.05,858.57 65.29,858.54 65.53,858.5 65.78,858.45 66.02,858.39 66.26,858.31 66.51,858.21 66.75,858.08 66.99,857.94 67.24,857.76 67.48,857.54 67.72,857.29 67.97,856.99 68.21,856.65 68.45,856.25 68.7,855.79 68.94,855.27 69.19,854.67 69.43,854 69.67,853.23 69.92,852.38 70.16,851.42 70.4,850.35 70.65,849.16 70.89,847.84 71.13,846.38 71.38,844.77 71.62,843 71.86,841.07 72.11,838.95 72.35,836.64 72.59,834.12 72.84,831.38 73.08,828.41 73.32,825.19 73.57,821.72 73.81,817.97 74.05,813.93 74.3,809.58 74.54,804.91" fill="none" stroke="#ff5a5a" stroke-width="2.0" stroke-linejoin="round"/>
<rect x="73.64" y="800.92" width="1.8" height="1.4" fill="#ff5a5a"/>
<rect x="73.64" y="798.72" width="1.8" height="1.4" fill="#ff5a5a"/>
<rect x="73.64" y="797.35" width="1.8" height="1.4" fill="#ff5a5a"/>
<rect x="73.64" y="791.04" width="1.8" height="1.4" fill="#ff5a5a"/>
<rect x="73.64" y="788.11" width="1.8" height="1.4" fill="#ff5a5a"/>
<rect x="73.64" y="786.83" width="1.8" height="1.4" fill="#ff5a5a"/>
<rect x="73.64" y="732.85" width="1.8" height="1.4" fill="#ff5a5a"/>
<rect x="73.64" y="724.61" width="1.8" height="1.4" fill="#ff5a5a"/>
<rect x="64.67" y="854.14" width="9.4" height="2.2" fill="#000"/>
<polyline points="76.84,858.72 77.08,858.72 77.33,858.72 77.57,858.72 77.81,858.72 78.06,858.72 78.3,858.72 78.54,858.71 78.79,858.71 79.03,858.71 79.27,858.7 79.52,858.69 79.76,858.68 80,858.66 80.25,858.64 80.49,858.61 80.73,858.58 80.98,858.53 81.22,858.48 81.46,858.41 81.71,858.33 81.95,858.24 82.19,858.13 82.44,858 82.68,857.85 82.92,857.67 83.17,857.47 83.41,857.24 83.66,856.98 83.9,856.68 84.14,856.35 84.39,855.97 84.63,855.55 84.87,855.08 85.12,854.55 85.36,853.97 85.6,853.33 85.85,852.63 86.09,851.85 86.33,851 86.58,850.07 86.82,849.05 87.06,847.94 87.31,846.74 87.55,845.44 87.79,844.02 88.04,842.5 88.28,840.85 88.52,839.07 88.77,837.16 89.01,835.11" fill="none" stroke="#ff5a5a" stroke-width="2.0" stroke-linejoin="round"/>
<rect x="88.11" y="831.3" width="1.8" height="1.4" fill="#ff5a5a"/>
<rect x="88.11" y="828.28" width="1.8" height="1.4" fill="#ff5a5a"/>
<rect x="88.11" y="824.34" width="1.8" height="1.4" fill="#ff5a5a"/>
<rect x="88.11" y="820.78" width="1.8" height="1.4" fill="#ff5a5a"/>
<rect x="88.11" y="810.25" width="1.8" height="1.4" fill="#ff5a5a"/>
<rect x="88.11" y="804.4" width="1.8" height="1.4" fill="#ff5a5a"/>
<rect x="88.11" y="803.3" width="1.8" height="1.4" fill="#ff5a5a"/>
<rect x="88.11" y="796.89" width="1.8" height="1.4" fill="#ff5a5a"/>
<rect x="79.14" y="855.7" width="9.4" height="2.2" fill="#000"/>
<polyline points="91.31,857.99 91.55,856.93 91.8,856.05 92.04,855.31 92.28,854.7 92.53,854.18 92.77,853.75 93.01,853.39 93.26,853.09 93.5,852.83 93.74,852.62 93.99,852.43 94.23,852.27 94.47,852.13 94.72,852 94.96,851.88 95.2,851.77 95.45,851.65 95.69,851.54 95.93,851.41 96.18,851.28 96.42,851.14 96.66,850.97 96.91,850.79 97.15,850.59 97.39,850.36 97.64,850.1 97.88,849.8 98.13,849.47 98.37,849.09 98.61,848.67 98.86,848.2 99.1,847.67 99.34,847.08 99.59,846.43 99.83,845.71 100.07,844.91 100.32,844.04 100.56,843.07 100.8,842.01 101.05,840.86 101.29,839.6 101.53,838.22 101.78,836.73 102.02,835.11 102.26,833.36 102.51,831.46 102.75,829.42 102.99,827.21 103.24,824.85 103.48,822.3" fill="none" stroke="#ff5a5a" stroke-width="2.0" stroke-linejoin="round"/>
<rect x="102.58" y="817.94" width="1.8" height="1.4" fill="#ff5a5a"/>
<rect x="102.58" y="814.28" width="1.8" height="1.4" fill="#ff5a5a"/>
<rect x="102.58" y="812.63" width="1.8" height="1.4" fill="#ff5a5a"/>
<rect x="102.58" y="811.35" width="1.8" height="1.4" fill="#ff5a5a"/>
<rect x="102.58" y="791.59" width="1.8" height="1.4" fill="#ff5a5a"/>
<rect x="93.61" y="849.66" width="9.4" height="2.2" fill="#000"/>
<polyline points="105.78,858.63 106.02,858.63 106.27,858.63 106.51,858.63 106.75,858.63 107,858.62 107.24,858.62 107.48,858.62 107.73,858.62 107.97,858.62 108.21,858.61 108.46,858.61 108.7,858.6 108.94,858.58 109.19,858.57 109.43,858.55 109.67,858.52 109.92,858.49 110.16,858.44 110.4,858.39 110.65,858.33 110.89,858.26 111.13,858.18 111.38,858.08 111.62,857.96 111.86,857.83 112.11,857.68 112.35,857.5 112.6,857.3 112.84,857.07 113.08,856.82 113.33,856.53 113.57,856.21 113.81,855.85 114.06,855.45 114.3,855 114.54,854.52 114.79,853.98 115.03,853.38 115.27,852.73 115.52,852.02 115.76,851.25 116,850.4 116.25,849.48 116.49,848.49 116.73,847.41 116.98,846.24 117.22,844.98 117.46,843.62 117.71,842.17 117.95,840.6" fill="none" stroke="#ff5a5a" stroke-width="2.0" stroke-linejoin="round"/>
<rect x="117.05" y="814.28" width="1.8" height="1.4" fill="#ff5a5a"/>
<rect x="108.08" y="852.58" width="9.4" height="2.2" fill="#000"/>
<polyline points="120.25,858.72 120.49,858.72 120.74,858.72 120.98,858.72 121.22,858.72 121.47,858.72 121.71,858.72 121.95,858.71 122.2,858.71 122.44,858.71 122.68,858.7 122.93,858.69 123.17,858.68 123.41,858.67 123.66,858.65 123.9,858.62 124.14,858.59 124.39,858.55 124.63,858.5 124.87,858.44 125.12,858.36 125.36,858.28 125.6,858.18 125.85,858.06 126.09,857.92 126.34,857.75 126.58,857.57 126.82,857.36 127.07,857.11 127.31,856.84 127.55,856.53 127.8,856.18 128.04,855.79 128.28,855.36 128.53,854.88 128.77,854.34 129.01,853.75 129.26,853.1 129.5,852.38 129.74,851.6 129.99,850.74 130.23,849.8 130.47,848.78 130.72,847.67 130.96,846.47 131.2,845.16 131.45,843.75 131.69,842.23 131.93,840.59 132.18,838.83 132.42,836.94" fill="none" stroke="#ff5a5a" stroke-width="2.0" stroke-linejoin="round"/>
<rect x="131.52" y="834.41" width="1.8" height="1.4" fill="#ff5a5a"/>
<rect x="131.52" y="832.58" width="1.8" height="1.4" fill="#ff5a5a"/>
<rect x="131.52" y="829.83" width="1.8" height="1.4" fill="#ff5a5a"/>
<rect x="131.52" y="828" width="1.8" height="1.4" fill="#ff5a5a"/>
<rect x="131.52" y="825.26" width="1.8" height="1.4" fill="#ff5a5a"/>
<rect x="131.52" y="820.68" width="1.8" height="1.4" fill="#ff5a5a"/>
<rect x="131.52" y="819.77" width="1.8" height="1.4" fill="#ff5a5a"/>
<rect x="122.55" y="855.05" width="9.4" height="2.2" fill="#000"/>
<polyline points="134.72,858.72 134.96,858.72 135.21,858.72 135.45,858.72 135.69,858.72 135.94,858.72 136.18,858.72 136.42,858.72 136.67,858.71 136.91,858.71 137.15,858.71 137.4,858.7 137.64,858.7 137.88,858.69 138.13,858.68 138.37,858.66 138.61,858.64 138.86,858.62 139.1,858.59 139.34,858.55 139.59,858.51 139.83,858.46 140.07,858.4 140.32,858.33 140.56,858.25 140.81,858.16 141.05,858.05 141.29,857.93 141.54,857.79 141.78,857.63 142.02,857.45 142.27,857.25 142.51,857.02 142.75,856.77 143,856.49 143.24,856.18 143.48,855.84 143.73,855.46 143.97,855.04 144.21,854.59 144.46,854.09 144.7,853.55 144.94,852.96 145.19,852.31 145.43,851.61 145.67,850.86 145.92,850.04 146.16,849.16 146.4,848.21 146.65,847.19 146.89,846.09" fill="none" stroke="#ff5a5a" stroke-width="2.0" stroke-linejoin="round"/>
<rect x="145.99" y="843.56" width="1.8" height="1.4" fill="#ff5a5a"/>
<rect x="145.99" y="841.73" width="1.8" height="1.4" fill="#ff5a5a"/>
<rect x="145.99" y="839.9" width="1.8" height="1.4" fill="#ff5a5a"/>
<rect x="145.99" y="838.07" width="1.8" height="1.4" fill="#ff5a5a"/>
<rect x="145.99" y="833.49" width="1.8" height="1.4" fill="#ff5a5a"/>
<rect x="145.99" y="828.92" width="1.8" height="1.4" fill="#ff5a5a"/>
<rect x="137.02" y="855.05" width="9.4" height="2.2" fill="#000"/>
<polyline points="149.19,858.81 149.43,858.81 149.68,858.81 149.92,858.81 150.16,858.81 150.41,858.81 150.65,858.81 150.89,858.81 151.14,858.81 151.38,858.8 151.62,858.8 151.87,858.8 152.11,858.79 152.35,858.78 152.6,858.77 152.84,858.76 153.08,858.74 153.33,858.72 153.57,858.7 153.81,858.67 154.06,858.63 154.3,858.59 154.54,858.54 154.79,858.48 155.03,858.41 155.27,858.33 155.52,858.23 155.76,858.13 156.01,858.01 156.25,857.87 156.49,857.72 156.74,857.54 156.98,857.35 157.22,857.13 157.47,856.89 157.71,856.62 157.95,856.33 158.2,856 158.44,855.64 158.68,855.25 158.93,854.82 159.17,854.35 159.41,853.84 159.66,853.29 159.9,852.68 160.14,852.03 160.39,851.33 160.63,850.57 160.87,849.75 161.12,848.87 161.36,847.92" fill="none" stroke="#ff5a5a" stroke-width="2.0" stroke-linejoin="round"/>
<rect x="160.46" y="845.39" width="1.8" height="1.4" fill="#ff5a5a"/>
<rect x="160.46" y="842.64" width="1.8" height="1.4" fill="#ff5a5a"/>
<rect x="160.46" y="839.9" width="1.8" height="1.4" fill="#ff5a5a"/>
<rect x="160.46" y="837.15" width="1.8" height="1.4" fill="#ff5a5a"/>
<rect x="160.46" y="834.41" width="1.8" height="1.4" fill="#ff5a5a"/>
<rect x="160.46" y="831.66" width="1.8" height="1.4" fill="#ff5a5a"/>
<rect x="160.46" y="716.38" width="1.8" height="1.4" fill="#ff5a5a"/>
<rect x="151.49" y="856.43" width="9.4" height="2.2" fill="#000"/>
<polyline points="163.66,858.9 163.9,858.9 164.15,858.9 164.39,858.9 164.63,858.9 164.88,858.9 165.12,858.9 165.36,858.9 165.61,858.9 165.85,858.9 166.09,858.9 166.34,858.9 166.58,858.9 166.82,858.89 167.07,858.89 167.31,858.89 167.55,858.88 167.8,858.88 168.04,858.87 168.28,858.86 168.53,858.86 168.77,858.84 169.01,858.83 169.26,858.82 169.5,858.8 169.75,858.78 169.99,858.76 170.23,858.73 170.48,858.7 170.72,858.66 170.96,858.62 171.21,858.58 171.45,858.53 171.69,858.48 171.94,858.42 172.18,858.35 172.42,858.27 172.67,858.19 172.91,858.1 173.15,858 173.4,857.89 173.64,857.78 173.88,857.65 174.13,857.51 174.37,857.36 174.61,857.19 174.86,857.01 175.1,856.82 175.34,856.62 175.59,856.39 175.83,856.15" fill="none" stroke="#ff5a5a" stroke-width="2.0" stroke-linejoin="round"/>
<rect x="165.96" y="857.07" width="9.4" height="2.2" fill="#000"/>
<polyline points="178.13,858.9 178.37,858.9 178.62,858.9 178.86,858.9 179.1,858.9 179.35,858.9 179.59,858.9 179.83,858.9 180.08,858.9 180.32,858.9 180.56,858.9 180.81,858.9 181.05,858.89 181.29,858.89 181.54,858.89 181.78,858.88 182.02,858.88 182.27,858.87 182.51,858.86 182.75,858.85 183,858.84 183.24,858.83 183.48,858.81 183.73,858.79 183.97,858.77 184.21,858.74 184.46,858.71 184.7,858.67 184.95,858.63 185.19,858.58 185.43,858.53 185.68,858.47 185.92,858.41 186.16,858.34 186.41,858.25 186.65,858.16 186.89,858.07 187.14,857.96 187.38,857.84 187.62,857.7 187.87,857.56 188.11,857.4 188.35,857.23 188.6,857.04 188.84,856.84 189.08,856.62 189.33,856.39 189.57,856.13 189.81,855.85 190.06,855.56 190.3,855.24" fill="none" stroke="#ff5a5a" stroke-width="2.0" stroke-linejoin="round"/>
<rect x="180.43" y="857.07" width="9.4" height="2.2" fill="#000"/>
<line x1="40.5" y1="694.2" x2="192" y2="694.2" stroke="#000" stroke-width="1.3"/>
<line x1="47.3" y1="694.2" x2="47.3" y2="858.9" stroke="#777" stroke-width="1.4"/>
<line x1="192" y1="694.2" x2="192" y2="858.9" stroke="#777" stroke-width="1"/>
<line x1="47.3" y1="858.9" x2="192" y2="858.9" stroke="#777" stroke-width="1.4"/>
<line x1="40.5" y1="858.9" x2="47.3" y2="858.9" stroke="#000" stroke-width="1.2"/>
<text x="0" y="0" font-size="8.8" text-anchor="end" transform="translate(37.9 862.1) scale(1.26 1)">0</text>
<line x1="40.5" y1="831.45" x2="47.3" y2="831.45" stroke="#000" stroke-width="1.2"/>
<text x="0" y="0" font-size="8.8" text-anchor="end" transform="translate(37.9 834.65) scale(1.26 1)">30</text>
<line x1="40.5" y1="804" x2="47.3" y2="804" stroke="#000" stroke-width="1.2"/>
<text x="0" y="0" font-size="8.8" text-anchor="end" transform="translate(37.9 807.2) scale(1.26 1)">60</text>
<line x1="40.5" y1="776.55" x2="47.3" y2="776.55" stroke="#000" stroke-width="1.2"/>
<text x="0" y="0" font-size="8.8" text-anchor="end" transform="translate(37.9 779.75) scale(1.26 1)">90</text>
<line x1="40.5" y1="749.1" x2="47.3" y2="749.1" stroke="#000" stroke-width="1.2"/>
<text x="0" y="0" font-size="8.8" text-anchor="end" transform="translate(37.9 752.3) scale(1.26 1)">120</text>
<line x1="40.5" y1="721.65" x2="47.3" y2="721.65" stroke="#000" stroke-width="1.2"/>
<text x="0" y="0" font-size="8.8" text-anchor="end" transform="translate(37.9 724.85) scale(1.26 1)">150</text>
<line x1="40.5" y1="694.2" x2="47.3" y2="694.2" stroke="#000" stroke-width="1.2"/>
<text x="0" y="0" font-size="8.8" text-anchor="end" transform="translate(37.9 697.4) scale(1.26 1)">180</text>
<text x="0" y="0" font-size="9" text-anchor="middle" transform="translate(13.8 779.3) rotate(-90) scale(1 1.2)">Transcripts Per Million (TPM)</text>
<text x="0" y="0" font-size="9" text-anchor="end" transform="translate(60.33 866.3) rotate(-90) scale(1 1.2)">HNSC (n=519)</text>
<text x="0" y="0" font-size="9" text-anchor="end" transform="translate(74.8 866.3) rotate(-90) scale(1 1.2)">LUSC (n=486)</text>
<text x="0" y="0" font-size="9" text-anchor="end" transform="translate(89.27 866.3) rotate(-90) scale(1 1.2)">LUAD (n=483)</text>
<text x="0" y="0" font-size="9" text-anchor="end" transform="translate(103.74 866.3) rotate(-90) scale(1 1.2)">LGG (n=518)</text>
<text x="0" y="0" font-size="9" text-anchor="end" transform="translate(118.21 866.3) rotate(-90) scale(1 1.2)">GBM (n=163)</text>
<text x="0" y="0" font-size="9" text-anchor="end" transform="translate(132.69 866.3) rotate(-90) scale(1 1.2)">STAD (n=408)</text>
<text x="0" y="0" font-size="9" text-anchor="end" transform="translate(147.16 866.3) rotate(-90) scale(1 1.2)">SKCM (n=275)</text>
<text x="0" y="0" font-size="9" text-anchor="end" transform="translate(161.62 866.3) rotate(-90) scale(1 1.2)">COAD (n=1085)</text>
<text x="0" y="0" font-size="9" text-anchor="end" transform="translate(176.09 866.3) rotate(-90) scale(1 1.2)">DLBCL (n=47)</text>
<text x="0" y="0" font-size="9" text-anchor="end" transform="translate(190.56 866.3) rotate(-90) scale(1 1.2)">LAML (n=173)</text>
<text x="225.8" y="684.6" font-size="16" font-weight="bold">l.</text>
<text x="291" y="693.4" font-size="11.6">CTL</text>
<text x="317.8" y="702.7" font-size="11.7" fill="#1aaef0">SLC7A11 OE</text>
<polyline points="280.7,707.4 280.7,692 285,692" fill="none" stroke="#000" stroke-width="1.2"/>
<polyline points="309.9,705.9 309.9,699.4 314.4,699.4" fill="none" stroke="#000" stroke-width="1.2"/>
<rect x="264.6" y="711.5" width="63.9" height="40.5" fill="#f7f7f7" stroke="#111" stroke-width="1.1"/>
<rect x="264.6" y="756" width="63.9" height="26" fill="#f7f7f7" stroke="#111" stroke-width="1.1"/>
<rect x="264.6" y="785" width="63.9" height="25.5" fill="#f7f7f7" stroke="#111" stroke-width="1.1"/>
<rect x="301" y="713" width="18" height="10" rx="4" fill="#000" opacity="0.13" filter="url(#bl2)"/>
<rect x="300.5" y="724.5" width="19" height="9" rx="3" fill="#000" opacity="1" filter="url(#bl1)"/>
<rect x="300.5" y="722.85" width="11" height="11.5" rx="4" fill="#000" opacity="1" filter="url(#bl1)"/>
<rect x="272.8" y="738.9" width="19.8" height="2.6" rx="1.3" fill="#999" opacity="0.85" filter="url(#bl1)"/>
<rect x="300.6" y="738.9" width="18.1" height="2.6" rx="1.3" fill="#888" opacity="0.85" filter="url(#bl1)"/>
<rect x="273" y="727.4" width="19" height="4" rx="2" fill="#ccc" opacity="0.45" filter="url(#bl2)"/>
<rect x="270.2" y="767.5" width="22.7" height="3.8" rx="1.9" fill="#0a0a0a" opacity="1" filter="url(#bl1)"/>
<rect x="299.2" y="767.5" width="22.7" height="3.8" rx="1.9" fill="#0a0a0a" opacity="1" filter="url(#bl1)"/>
<rect x="270" y="796.7" width="23.8" height="3.4" rx="1.7" fill="#1a1a1a" opacity="1" filter="url(#bl1)"/>
<rect x="300.3" y="796.6" width="20.9" height="3.2" rx="1.6" fill="#1a1a1a" opacity="1" filter="url(#bl1)"/>
<text x="257.4" y="716.5" font-size="8.4" text-anchor="end">40 kDa</text>
<line x1="261.9" y1="714.3" x2="264.6" y2="714.3" stroke="#000" stroke-width="1.2"/>
<text x="257.4" y="742.4" font-size="8.4" text-anchor="end">35 kDa</text>
<line x1="261.9" y1="740.4" x2="264.6" y2="740.4" stroke="#000" stroke-width="1.2"/>
<text x="257.4" y="759" font-size="8.4" text-anchor="end">70 kDa</text>
<line x1="261.9" y1="756.9" x2="264.6" y2="756.9" stroke="#000" stroke-width="1.2"/>
<text x="257.4" y="782.2" font-size="8.4" text-anchor="end">55 kDa</text>
<line x1="261.9" y1="780.7" x2="264.6" y2="780.7" stroke="#000" stroke-width="1.2"/>
<text x="257.4" y="796.5" font-size="8.4" text-anchor="end">40 kDa</text>
<line x1="261.9" y1="794.3" x2="264.6" y2="794.3" stroke="#000" stroke-width="1.2"/>
<text x="335.9" y="734.8" font-size="11.7">SLC7A11</text>
<text x="335.9" y="774.2" font-size="11.7">CD98</text>
<text x="335.9" y="803.4" font-size="11.7">ERK2</text>
<text x="219.5" y="837.5" font-size="16" font-weight="bold">m.</text>
<text x="284" y="843.4" font-size="10.5" font-weight="bold" text-anchor="middle">SLC7A11/ERK2</text>
<text x="365.3" y="843.4" font-size="10.5" font-weight="bold" text-anchor="middle">CD98/ERK2</text>
<text x="238" y="897.2" font-size="10" font-weight="bold" text-anchor="middle" transform="rotate(-90 238 897.2)">Relative levels</text>
<line x1="267.5" y1="939.25" x2="267.5" y2="855.5" stroke="#000" stroke-width="1.3"/>
<line x1="263" y1="938.6" x2="267.5" y2="938.6" stroke="#000" stroke-width="1.3"/>
<text x="261.3" y="942.38" font-size="10.5" font-weight="bold" text-anchor="end">0.0</text>
<line x1="263" y1="910.9" x2="267.5" y2="910.9" stroke="#000" stroke-width="1.3"/>
<text x="261.3" y="914.68" font-size="10.5" font-weight="bold" text-anchor="end">0.5</text>
<line x1="263" y1="883.2" x2="267.5" y2="883.2" stroke="#000" stroke-width="1.3"/>
<text x="261.3" y="886.98" font-size="10.5" font-weight="bold" text-anchor="end">1.0</text>
<line x1="263" y1="855.5" x2="267.5" y2="855.5" stroke="#000" stroke-width="1.3"/>
<text x="261.3" y="859.28" font-size="10.5" font-weight="bold" text-anchor="end">1.5</text>
<line x1="346.6" y1="939.25" x2="346.6" y2="855.5" stroke="#000" stroke-width="1.3"/>
<line x1="342.1" y1="938.6" x2="346.6" y2="938.6" stroke="#000" stroke-width="1.3"/>
<text x="341.5" y="942.38" font-size="10.5" font-weight="bold" text-anchor="end">0.0</text>
<line x1="342.1" y1="910.9" x2="346.6" y2="910.9" stroke="#000" stroke-width="1.3"/>
<text x="341.5" y="914.68" font-size="10.5" font-weight="bold" text-anchor="end">0.5</text>
<line x1="342.1" y1="883.2" x2="346.6" y2="883.2" stroke="#000" stroke-width="1.3"/>
<text x="341.5" y="886.98" font-size="10.5" font-weight="bold" text-anchor="end">1.0</text>
<line x1="342.1" y1="855.5" x2="346.6" y2="855.5" stroke="#000" stroke-width="1.3"/>
<text x="341.5" y="859.28" font-size="10.5" font-weight="bold" text-anchor="end">1.5</text>
<rect x="273.8" y="935.28" width="12.4" height="3.32" fill="#000"/>
<rect x="292" y="883.2" width="12.7" height="55.4" fill="#14b4f2"/>
<line x1="298.3" y1="883.2" x2="298.3" y2="876.1" stroke="#14b4f2" stroke-width="1.1"/>
<line x1="294.8" y1="876.1" x2="301.8" y2="876.1" stroke="#14b4f2" stroke-width="1.1"/>
<line x1="263" y1="938.6" x2="311" y2="938.6" stroke="#000" stroke-width="1.3"/>
<line x1="280.2" y1="938.6" x2="280.2" y2="942.2" stroke="#000" stroke-width="1.2"/>
<line x1="298.2" y1="938.6" x2="298.2" y2="942.2" stroke="#000" stroke-width="1.2"/>
<circle cx="276.4" cy="934.6" r="2.5" fill="#fff" stroke="#000" stroke-width="0.9"/>
<circle cx="280.4" cy="930.2" r="2.5" fill="#fff" stroke="#000" stroke-width="0.9"/>
<circle cx="284" cy="934.2" r="2.5" fill="#fff" stroke="#000" stroke-width="0.9"/>
<circle cx="294.2" cy="877.7" r="2.5" fill="#fff" stroke="#000" stroke-width="0.9"/>
<circle cx="302.6" cy="882" r="2.5" fill="#fff" stroke="#000" stroke-width="0.9"/>
<circle cx="298.3" cy="891.8" r="2.5" fill="#fff" stroke="#000" stroke-width="0.9"/>
<polyline points="280.4,885.3 280.4,859 297.2,859 297.2,863.4" fill="none" stroke="#000" stroke-width="1.2"/>
<text x="289.6" y="855.9" font-size="10" font-weight="bold" text-anchor="middle">***</text>
<rect x="353.7" y="882.09" width="13.7" height="56.51" fill="#8c8c8c"/>
<rect x="371.8" y="883.2" width="13.7" height="55.4" fill="#14b4f2"/>
<line x1="360.5" y1="882.09" x2="360.5" y2="873.1" stroke="#8c8c8c" stroke-width="1.1"/>
<line x1="357" y1="873.1" x2="364" y2="873.1" stroke="#8c8c8c" stroke-width="1.1"/>
<line x1="378.6" y1="883.2" x2="378.6" y2="878.4" stroke="#14b4f2" stroke-width="1.1"/>
<line x1="375.1" y1="878.4" x2="382.1" y2="878.4" stroke="#14b4f2" stroke-width="1.1"/>
<line x1="342" y1="938.6" x2="390.8" y2="938.6" stroke="#000" stroke-width="1.3"/>
<line x1="360.5" y1="938.6" x2="360.5" y2="942.2" stroke="#000" stroke-width="1.2"/>
<line x1="378.6" y1="938.6" x2="378.6" y2="942.2" stroke="#000" stroke-width="1.2"/>
<circle cx="356.6" cy="875.5" r="2.5" fill="#fff" stroke="#000" stroke-width="0.9"/>
<circle cx="363.6" cy="875.5" r="2.5" fill="#fff" stroke="#000" stroke-width="0.9"/>
<circle cx="360.7" cy="890.7" r="2.5" fill="#fff" stroke="#000" stroke-width="0.9"/>
<circle cx="374.7" cy="879.3" r="2.5" fill="#fff" stroke="#000" stroke-width="0.9"/>
<circle cx="382.6" cy="882.8" r="2.5" fill="#fff" stroke="#000" stroke-width="0.9"/>
<circle cx="374.7" cy="884.8" r="2.5" fill="#fff" stroke="#000" stroke-width="0.9"/>
<polyline points="360.1,862.3 360.1,858 379.1,858 379.1,862.3" fill="none" stroke="#000" stroke-width="1.2"/>
<text x="369.5" y="851.5" font-size="10.5" font-style="italic" text-anchor="middle">ns</text>
<polyline points="280.4,944.6 280.4,965 287,965" fill="none" stroke="#000" stroke-width="1.2"/>
<text x="291" y="968.4" font-size="10.2">CTL</text>
<text x="289.2" y="955.4" font-size="10.5" fill="#1aaef0">SLC7A11 OE</text>
<polyline points="360.6,944.6 360.6,965 367.2,965" fill="none" stroke="#000" stroke-width="1.2"/>
<text x="371.2" y="968.4" font-size="10.2">CTL</text>
<text x="370.4" y="955.4" font-size="10.5" fill="#1aaef0">SLC7A11 OE</text>
<text x="418" y="683.8" font-size="16" font-weight="bold">n.</text>
<line x1="466.8" y1="860.05" x2="466.8" y2="719.85" stroke="#000" stroke-width="1.3"/>
<line x1="461.5" y1="859.4" x2="466.8" y2="859.4" stroke="#000" stroke-width="1.3"/>
<text x="459.6" y="863.18" font-size="10.5" font-weight="bold" text-anchor="end">0</text>
<line x1="461.5" y1="831.49" x2="466.8" y2="831.49" stroke="#000" stroke-width="1.3"/>
<text x="459.6" y="835.27" font-size="10.5" font-weight="bold" text-anchor="end">20</text>
<line x1="461.5" y1="803.58" x2="466.8" y2="803.58" stroke="#000" stroke-width="1.3"/>
<text x="459.6" y="807.36" font-size="10.5" font-weight="bold" text-anchor="end">40</text>
<line x1="461.5" y1="775.67" x2="466.8" y2="775.67" stroke="#000" stroke-width="1.3"/>
<text x="459.6" y="779.45" font-size="10.5" font-weight="bold" text-anchor="end">60</text>
<line x1="461.5" y1="747.76" x2="466.8" y2="747.76" stroke="#000" stroke-width="1.3"/>
<text x="459.6" y="751.54" font-size="10.5" font-weight="bold" text-anchor="end">80</text>
<line x1="461.5" y1="719.85" x2="466.8" y2="719.85" stroke="#000" stroke-width="1.3"/>
<text x="459.6" y="723.63" font-size="10.5" font-weight="bold" text-anchor="end">100</text>
<line x1="464.3" y1="845.44" x2="466.8" y2="845.44" stroke="#000" stroke-width="1.3"/>
<line x1="464.3" y1="817.53" x2="466.8" y2="817.53" stroke="#000" stroke-width="1.3"/>
<line x1="464.3" y1="789.62" x2="466.8" y2="789.62" stroke="#000" stroke-width="1.3"/>
<line x1="464.3" y1="761.71" x2="466.8" y2="761.71" stroke="#000" stroke-width="1.3"/>
<line x1="464.3" y1="733.8" x2="466.8" y2="733.8" stroke="#000" stroke-width="1.3"/>
<rect x="472.6" y="832.89" width="13" height="26.51" fill="#8c8c8c"/>
<rect x="487.3" y="831.49" width="13" height="27.91" fill="#00c3f9"/>
<rect x="506.8" y="791.02" width="13" height="68.38" fill="#8c8c8c"/>
<rect x="521.3" y="803.58" width="13" height="55.82" fill="#00c3f9"/>
<rect x="541" y="798" width="13" height="61.4" fill="#8c8c8c"/>
<rect x="555.1" y="827.3" width="13" height="32.1" fill="#00c3f9"/>
<rect x="574.8" y="763.11" width="13" height="96.29" fill="#8c8c8c"/>
<rect x="589" y="792.42" width="13" height="66.98" fill="#00c3f9"/>
<line x1="493.8" y1="831.49" x2="493.8" y2="826.5" stroke="#00c3f9" stroke-width="1.1"/>
<line x1="490.3" y1="826.5" x2="497.3" y2="826.5" stroke="#00c3f9" stroke-width="1.1"/>
<line x1="513.3" y1="791.02" x2="513.3" y2="787.5" stroke="#8c8c8c" stroke-width="1.1"/>
<line x1="509.8" y1="787.5" x2="516.8" y2="787.5" stroke="#8c8c8c" stroke-width="1.1"/>
<line x1="527.8" y1="803.58" x2="527.8" y2="796" stroke="#00c3f9" stroke-width="1.1"/>
<line x1="524.3" y1="796" x2="531.3" y2="796" stroke="#00c3f9" stroke-width="1.1"/>
<line x1="547.5" y1="798" x2="547.5" y2="788.5" stroke="#8c8c8c" stroke-width="1.1"/>
<line x1="544" y1="788.5" x2="551" y2="788.5" stroke="#8c8c8c" stroke-width="1.1"/>
<line x1="561.6" y1="827.3" x2="561.6" y2="821" stroke="#00c3f9" stroke-width="1.1"/>
<line x1="558.1" y1="821" x2="565.1" y2="821" stroke="#00c3f9" stroke-width="1.1"/>
<line x1="581.3" y1="763.11" x2="581.3" y2="749.5" stroke="#8c8c8c" stroke-width="1.1"/>
<line x1="577.8" y1="749.5" x2="584.8" y2="749.5" stroke="#8c8c8c" stroke-width="1.1"/>
<line x1="595.5" y1="792.42" x2="595.5" y2="785" stroke="#00c3f9" stroke-width="1.1"/>
<line x1="592" y1="785" x2="599" y2="785" stroke="#00c3f9" stroke-width="1.1"/>
<line x1="461.8" y1="859.4" x2="602.7" y2="859.4" stroke="#000" stroke-width="1.3"/>
<line x1="485.8" y1="859.4" x2="485.8" y2="863.4" stroke="#000" stroke-width="1.2"/>
<line x1="519.8" y1="859.4" x2="519.8" y2="863.4" stroke="#000" stroke-width="1.2"/>
<line x1="554.4" y1="859.4" x2="554.4" y2="863.4" stroke="#000" stroke-width="1.2"/>
<line x1="587.7" y1="859.4" x2="587.7" y2="863.4" stroke="#000" stroke-width="1.2"/>
<circle cx="474.8" cy="831" r="2.5" fill="#fff" stroke="#000" stroke-width="0.9"/>
<circle cx="478.2" cy="828.3" r="2.5" fill="#fff" stroke="#000" stroke-width="0.9"/>
<circle cx="481.5" cy="828.3" r="2.5" fill="#fff" stroke="#000" stroke-width="0.9"/>
<circle cx="483.2" cy="830.6" r="2.5" fill="#fff" stroke="#000" stroke-width="0.9"/>
<circle cx="478.4" cy="836" r="2.5" fill="#fff" stroke="#000" stroke-width="0.9"/>
<circle cx="509.4" cy="785.2" r="2.5" fill="#fff" stroke="#000" stroke-width="0.9"/>
<circle cx="512.9" cy="786.4" r="2.5" fill="#fff" stroke="#000" stroke-width="0.9"/>
<circle cx="517" cy="786.4" r="2.5" fill="#fff" stroke="#000" stroke-width="0.9"/>
<circle cx="512.9" cy="789.3" r="2.5" fill="#fff" stroke="#000" stroke-width="0.9"/>
<circle cx="511.1" cy="796.3" r="2.5" fill="#fff" stroke="#000" stroke-width="0.9"/>
<circle cx="515.2" cy="796.3" r="2.5" fill="#fff" stroke="#000" stroke-width="0.9"/>
<circle cx="546.8" cy="781.7" r="2.5" fill="#fff" stroke="#000" stroke-width="0.9"/>
<circle cx="546.8" cy="791.5" r="2.5" fill="#fff" stroke="#000" stroke-width="0.9"/>
<circle cx="543.1" cy="801.4" r="2.5" fill="#fff" stroke="#000" stroke-width="0.9"/>
<circle cx="543.1" cy="807.9" r="2.5" fill="#fff" stroke="#000" stroke-width="0.9"/>
<circle cx="550.8" cy="805.8" r="2.5" fill="#fff" stroke="#000" stroke-width="0.9"/>
<circle cx="580.9" cy="745" r="2.5" fill="#fff" stroke="#000" stroke-width="0.9"/>
<circle cx="580.9" cy="754.8" r="2.5" fill="#fff" stroke="#000" stroke-width="0.9"/>
<circle cx="580.9" cy="762.9" r="2.5" fill="#fff" stroke="#000" stroke-width="0.9"/>
<circle cx="580.9" cy="768.3" r="2.5" fill="#fff" stroke="#000" stroke-width="0.9"/>
<circle cx="580.9" cy="778.3" r="2.5" fill="#fff" stroke="#000" stroke-width="0.9"/>
<polygon points="493.6,816.7 490.7,821.77 496.5,821.77" fill="#fff" stroke="#000" stroke-width="0.9"/>
<polygon points="497.5,822 494.6,827.07 500.4,827.07" fill="#fff" stroke="#000" stroke-width="0.9"/>
<polygon points="489.8,826.4 486.9,831.47 492.7,831.47" fill="#fff" stroke="#000" stroke-width="0.9"/>
<polygon points="489.8,838.1 486.9,843.17 492.7,843.17" fill="#fff" stroke="#000" stroke-width="0.9"/>
<polygon points="497.5,838.1 494.6,843.17 500.4,843.17" fill="#fff" stroke="#000" stroke-width="0.9"/>
<polygon points="523.4,793.4 520.5,798.47 526.3,798.47" fill="#fff" stroke="#000" stroke-width="0.9"/>
<polygon points="523.4,800.4 520.5,805.47 526.3,805.47" fill="#fff" stroke="#000" stroke-width="0.9"/>
<polygon points="531.3,798.1 528.4,803.17 534.2,803.17" fill="#fff" stroke="#000" stroke-width="0.9"/>
<polygon points="531.3,803.3 528.4,808.38 534.2,808.38" fill="#fff" stroke="#000" stroke-width="0.9"/>
<polygon points="527.5,810.9 524.6,815.97 530.4,815.97" fill="#fff" stroke="#000" stroke-width="0.9"/>
<polygon points="561.6,814.6 558.7,819.67 564.5,819.67" fill="#fff" stroke="#000" stroke-width="0.9"/>
<polygon points="561.6,820.4 558.7,825.47 564.5,825.47" fill="#fff" stroke="#000" stroke-width="0.9"/>
<polygon points="561.6,827.1 558.7,832.17 564.5,832.17" fill="#fff" stroke="#000" stroke-width="0.9"/>
<polygon points="557.6,831.1 554.7,836.17 560.5,836.17" fill="#fff" stroke="#000" stroke-width="0.9"/>
<polygon points="565.6,830.7 562.7,835.77 568.5,835.77" fill="#fff" stroke="#000" stroke-width="0.9"/>
<polygon points="595.1,777.4 592.2,782.47 598,782.47" fill="#fff" stroke="#000" stroke-width="0.9"/>
<polygon points="594.1,790.9 591.2,795.97 597,795.97" fill="#fff" stroke="#000" stroke-width="0.9"/>
<polygon points="596.7,793.5 593.8,798.57 599.6,798.57" fill="#fff" stroke="#000" stroke-width="0.9"/>
<polygon points="599.4,792.9 596.5,797.97 602.3,797.97" fill="#fff" stroke="#000" stroke-width="0.9"/>
<polygon points="591.4,795.6 588.5,800.67 594.3,800.67" fill="#fff" stroke="#000" stroke-width="0.9"/>
<polyline points="479.9,811.4 479.9,808.2 493.6,808.2 493.6,811.4" fill="none" stroke="#000" stroke-width="1.2"/>
<text x="487" y="804.8" font-size="10.5" font-style="italic" text-anchor="middle">ns</text>
<polyline points="479.9,785.1 479.9,750.2 513.3,750.2 513.3,754.9" fill="none" stroke="#000" stroke-width="1.2"/>
<text x="496.7" y="747.4" font-size="10" font-weight="bold" text-anchor="middle">****</text>
<polyline points="513.3,772.5 513.3,769.3 527.2,769.3 527.2,791.7" fill="none" stroke="#000" stroke-width="1.2"/>
<text x="520.4" y="765.4" font-size="10.5" font-style="italic" text-anchor="middle">ns</text>
<polyline points="512.5,728.6 512.5,689.2 581.6,689.2 581.6,691.8" fill="none" stroke="#000" stroke-width="1.2"/>
<text x="548.2" y="687" font-size="10" font-weight="bold" text-anchor="middle">***</text>
<polyline points="547.4,749.8 547.4,708.4 581.6,708.4 581.6,711.5" fill="none" stroke="#000" stroke-width="1.2"/>
<text x="564.5" y="705.4" font-size="10" font-weight="bold" text-anchor="middle">****</text>
<polyline points="548.8,770.9 548.8,767.4 562.5,767.4 562.5,803.6" fill="none" stroke="#000" stroke-width="1.2"/>
<text x="556.2" y="765.1" font-size="10" font-weight="bold" text-anchor="middle">****</text>
<polyline points="581.6,735.2 581.6,730.7 595.5,730.7 595.5,766" fill="none" stroke="#000" stroke-width="1.2"/>
<text x="588.7" y="727.7" font-size="10" font-weight="bold" text-anchor="middle">****</text>
<circle cx="613" cy="742.4" r="2.6" fill="#fff" stroke="#000" stroke-width="0.9"/>
<text x="622.6" y="746.7" font-size="10.4">CTL</text>
<polygon points="613,762.1 610.4,766.65 615.6,766.65" fill="#fff" stroke="#000" stroke-width="0.9"/>
<text x="622.6" y="767.8" font-size="10.6" fill="#1aaef0">SLC7A11 OE</text>
<text x="438.65" y="787.5" font-size="10.7" font-weight="bold" text-anchor="middle" transform="rotate(-90 438.65 787.5)">% dead cells (DAPI +)</text>
<text x="485.8" y="877.2" font-size="11" text-anchor="middle">+</text>
<text x="519.8" y="877.2" font-size="11" text-anchor="middle">+</text>
<text x="554.4" y="877.2" font-size="11" text-anchor="middle">-</text>
<text x="587.7" y="877.2" font-size="11" text-anchor="middle">-</text>
<text x="606.3" y="877.2" font-size="11.3">: DMSO</text>
<text x="485.8" y="888.9" font-size="11" text-anchor="middle">-</text>
<text x="519.8" y="888.9" font-size="11" text-anchor="middle">+</text>
<text x="554.4" y="888.9" font-size="11" text-anchor="middle">-</text>
<text x="587.7" y="888.9" font-size="11" text-anchor="middle">+</text>
<text x="606.3" y="888.9" font-size="11.3">: ASNase</text>
<text x="485.8" y="900.6" font-size="11" text-anchor="middle">-</text>
<text x="519.8" y="900.6" font-size="11" text-anchor="middle">-</text>
<text x="554.4" y="900.6" font-size="11" text-anchor="middle">+</text>
<text x="587.7" y="900.6" font-size="11" text-anchor="middle">+</text>
<text x="606.3" y="900.6" font-size="11.3">: BI-4916</text>
</svg></body></html>
